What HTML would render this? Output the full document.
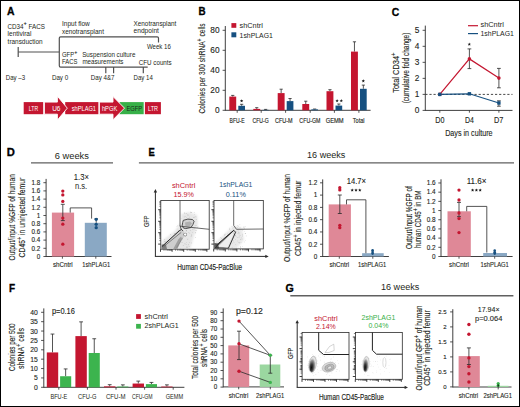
<!DOCTYPE html>
<html><head><meta charset="utf-8"><style>
html,body{margin:0;padding:0;background:#fff;}
body{width:520px;height:407px;overflow:hidden;}
svg{display:block;}
text{font-family:"Liberation Sans",sans-serif;}
</style></head><body>
<svg width="520" height="407" viewBox="0 0 520 407">
<rect x="0" y="0" width="520" height="407" fill="#fff"/>
<text x="7.00" y="14.60" font-size="10.4" fill="#000" stroke="#000" stroke-width="0.3" font-weight="bold" textLength="7.50" lengthAdjust="spacingAndGlyphs" >A</text>
<text x="7.40" y="29.00" font-size="6.5" fill="#231f20" textLength="37.50" lengthAdjust="spacingAndGlyphs" >CD34<tspan dy="-3.6" font-size="90%" font-weight="bold">+</tspan><tspan dy="3.6">​</tspan> FACS</text>
<text x="7.60" y="36.20" font-size="6.5" fill="#231f20" textLength="23.80" lengthAdjust="spacingAndGlyphs" >lentiviral</text>
<text x="7.60" y="43.65" font-size="6.5" fill="#231f20" textLength="35.00" lengthAdjust="spacingAndGlyphs" >transduction</text>
<line x1="18.20" y1="47.00" x2="18.20" y2="56.90" stroke="#505050" stroke-width="1.2" />
<line x1="18.20" y1="52.00" x2="59.30" y2="52.00" stroke="#505050" stroke-width="1.2" />
<path d="M147.7,67.1 H60.6 Q59.3,67.1 59.3,65.8 V38.1 Q59.3,36.8 60.6,36.8 H157.2 Q158.5,36.8 158.5,38.1 V42.5" fill="none" stroke="#505050" stroke-width="1.2" />
<line x1="105.80" y1="67.10" x2="105.80" y2="73.30" stroke="#505050" stroke-width="1.2" />
<line x1="113.60" y1="67.10" x2="113.60" y2="73.30" stroke="#505050" stroke-width="1.2" />
<line x1="143.30" y1="67.10" x2="143.30" y2="73.30" stroke="#505050" stroke-width="1.2" />
<text x="62.00" y="26.10" font-size="6.5" fill="#231f20" textLength="27.80" lengthAdjust="spacingAndGlyphs" >Input flow</text>
<text x="62.00" y="33.60" font-size="6.5" fill="#231f20" textLength="41.90" lengthAdjust="spacingAndGlyphs" >xenotransplant</text>
<text x="133.50" y="25.80" font-size="6.5" fill="#231f20" textLength="42.90" lengthAdjust="spacingAndGlyphs" >Xenotransplant</text>
<text x="133.60" y="33.30" font-size="6.5" fill="#231f20" textLength="25.30" lengthAdjust="spacingAndGlyphs" >endpoint</text>
<text x="146.90" y="49.40" font-size="6.5" fill="#231f20" textLength="23.90" lengthAdjust="spacingAndGlyphs" >Week 16</text>
<text x="62.00" y="56.70" font-size="6.5" fill="#231f20" textLength="15.30" lengthAdjust="spacingAndGlyphs" >GFP<tspan dy="-2.6" font-size="90%" font-weight="bold">+</tspan><tspan dy="2.6">​</tspan></text>
<text x="62.00" y="64.40" font-size="6.5" fill="#231f20" textLength="15.30" lengthAdjust="spacingAndGlyphs" >FACS</text>
<text x="82.20" y="56.70" font-size="6.5" fill="#231f20" textLength="53.20" lengthAdjust="spacingAndGlyphs" >Suspension culture</text>
<text x="82.40" y="64.40" font-size="6.5" fill="#231f20" textLength="41.10" lengthAdjust="spacingAndGlyphs" >measurements</text>
<text x="138.80" y="65.20" font-size="6.5" fill="#231f20" textLength="32.90" lengthAdjust="spacingAndGlyphs" >CFU counts</text>
<text x="5.80" y="80.30" font-size="6.5" fill="#231f20" textLength="19.30" lengthAdjust="spacingAndGlyphs" >Day –3</text>
<text x="51.90" y="80.30" font-size="6.5" fill="#231f20" textLength="16.30" lengthAdjust="spacingAndGlyphs" >Day 0</text>
<text x="90.70" y="80.30" font-size="6.5" fill="#231f20" textLength="23.90" lengthAdjust="spacingAndGlyphs" >Day 4&amp;7</text>
<text x="133.50" y="80.30" font-size="6.5" fill="#231f20" textLength="19.30" lengthAdjust="spacingAndGlyphs" >Day 14</text>
<rect x="23.70" y="102.10" width="19.50" height="12.10" fill="#c41630" />
<rect x="65.20" y="102.10" width="33.20" height="12.10" fill="#c41630" />
<path d="M44.4,102.1 H57.4 V96.2 L67.3,108.15 L57.4,120.1 V114.2 H44.4 Z" fill="#c41630" stroke="#fff" stroke-width="0.9" />
<rect x="119.50" y="102.10" width="24.20" height="12.10" fill="#37b048" />
<path d="M99.4,102.1 H113 V96.5 L124.5,108.15 L113,119.8 V114.2 H99.4 Z" fill="#c41630" stroke="#fff" stroke-width="0.9" />
<rect x="144.90" y="102.10" width="16.00" height="12.10" fill="#c41630" />
<text x="28.80" y="111.30" font-size="7.0" fill="#fff" textLength="9.30" lengthAdjust="spacingAndGlyphs" >LTR</text>
<text x="52.20" y="111.30" font-size="7.0" fill="#fff" textLength="8.30" lengthAdjust="spacingAndGlyphs" >U6</text>
<text x="71.70" y="111.30" font-size="7.0" fill="#fff" textLength="24.30" lengthAdjust="spacingAndGlyphs" >shPLAG1</text>
<text x="101.90" y="111.30" font-size="7.0" fill="#fff" textLength="15.40" lengthAdjust="spacingAndGlyphs" >hPGK</text>
<text x="126.40" y="111.30" font-size="7.0" fill="#1a2a1c" textLength="15.70" lengthAdjust="spacingAndGlyphs" >EGFP</text>
<text x="148.10" y="111.30" font-size="7.0" fill="#fff" textLength="10.00" lengthAdjust="spacingAndGlyphs" >LTR</text>
<text x="198.60" y="15.00" font-size="10.4" fill="#000" stroke="#000" stroke-width="0.3" font-weight="bold" textLength="7.10" lengthAdjust="spacingAndGlyphs" >B</text>
<line x1="225.30" y1="26.00" x2="225.30" y2="110.75" stroke="#2a2a2a" stroke-width="0.9" />
<line x1="222.60" y1="110.30" x2="225.30" y2="110.30" stroke="#2a2a2a" stroke-width="0.8" />
<text x="219.50" y="113.29" font-size="8.3" fill="#231f20" stroke="#231f20" stroke-width="0.12" text-anchor="end" >0</text>
<line x1="222.60" y1="90.30" x2="225.30" y2="90.30" stroke="#2a2a2a" stroke-width="0.8" />
<text x="219.50" y="93.29" font-size="8.3" fill="#231f20" stroke="#231f20" stroke-width="0.12" text-anchor="end" >20</text>
<line x1="222.60" y1="70.30" x2="225.30" y2="70.30" stroke="#2a2a2a" stroke-width="0.8" />
<text x="219.50" y="73.29" font-size="8.3" fill="#231f20" stroke="#231f20" stroke-width="0.12" text-anchor="end" >40</text>
<line x1="222.60" y1="50.30" x2="225.30" y2="50.30" stroke="#2a2a2a" stroke-width="0.8" />
<text x="219.50" y="53.29" font-size="8.3" fill="#231f20" stroke="#231f20" stroke-width="0.12" text-anchor="end" >60</text>
<line x1="222.60" y1="30.30" x2="225.30" y2="30.30" stroke="#2a2a2a" stroke-width="0.8" />
<text x="219.50" y="33.29" font-size="8.3" fill="#231f20" stroke="#231f20" stroke-width="0.12" text-anchor="end" >80</text>
<line x1="225.30" y1="110.30" x2="370.60" y2="110.30" stroke="#2a2a2a" stroke-width="0.9" />
<line x1="237.20" y1="110.30" x2="237.20" y2="112.80" stroke="#2a2a2a" stroke-width="0.8" />
<line x1="232.75" y1="95.40" x2="232.75" y2="96.60" stroke="#2a2a2a" stroke-width="0.8" />
<line x1="231.15" y1="95.40" x2="234.35" y2="95.40" stroke="#2a2a2a" stroke-width="0.8" />
<rect x="229.30" y="96.60" width="6.90" height="13.70" fill="#c41630" />
<line x1="241.65" y1="104.30" x2="241.65" y2="105.80" stroke="#2a2a2a" stroke-width="0.8" />
<line x1="240.05" y1="104.30" x2="243.25" y2="104.30" stroke="#2a2a2a" stroke-width="0.8" />
<rect x="238.30" y="105.80" width="6.70" height="4.50" fill="#165080" />
<text x="237.10" y="122.70" font-size="8.0" fill="#231f20" stroke="#231f20" stroke-width="0.16" text-anchor="middle" textLength="15.10" lengthAdjust="spacingAndGlyphs" >BFU-E</text>
<line x1="261.20" y1="110.30" x2="261.20" y2="112.80" stroke="#2a2a2a" stroke-width="0.8" />
<line x1="256.75" y1="107.70" x2="256.75" y2="108.90" stroke="#2a2a2a" stroke-width="0.8" />
<line x1="255.15" y1="107.70" x2="258.35" y2="107.70" stroke="#2a2a2a" stroke-width="0.8" />
<rect x="253.30" y="108.90" width="6.90" height="1.40" fill="#c41630" />
<line x1="265.65" y1="109.40" x2="265.65" y2="109.90" stroke="#2a2a2a" stroke-width="0.8" />
<line x1="264.05" y1="109.40" x2="267.25" y2="109.40" stroke="#2a2a2a" stroke-width="0.8" />
<rect x="262.30" y="109.90" width="6.70" height="0.40" fill="#165080" />
<text x="260.55" y="122.70" font-size="8.0" fill="#231f20" stroke="#231f20" stroke-width="0.16" text-anchor="middle" textLength="16.20" lengthAdjust="spacingAndGlyphs" >CFU-G</text>
<line x1="285.60" y1="110.30" x2="285.60" y2="112.80" stroke="#2a2a2a" stroke-width="0.8" />
<line x1="281.15" y1="89.20" x2="281.15" y2="93.10" stroke="#2a2a2a" stroke-width="0.8" />
<line x1="279.55" y1="89.20" x2="282.75" y2="89.20" stroke="#2a2a2a" stroke-width="0.8" />
<rect x="277.70" y="93.10" width="6.90" height="17.20" fill="#c41630" />
<line x1="290.05" y1="98.50" x2="290.05" y2="101.10" stroke="#2a2a2a" stroke-width="0.8" />
<line x1="288.45" y1="98.50" x2="291.65" y2="98.50" stroke="#2a2a2a" stroke-width="0.8" />
<rect x="286.70" y="101.10" width="6.70" height="9.20" fill="#165080" />
<text x="283.75" y="122.70" font-size="8.0" fill="#231f20" stroke="#231f20" stroke-width="0.16" text-anchor="middle" textLength="17.60" lengthAdjust="spacingAndGlyphs" >CFU-M</text>
<line x1="310.20" y1="110.30" x2="310.20" y2="112.80" stroke="#2a2a2a" stroke-width="0.8" />
<line x1="305.75" y1="101.20" x2="305.75" y2="104.00" stroke="#2a2a2a" stroke-width="0.8" />
<line x1="304.15" y1="101.20" x2="307.35" y2="101.20" stroke="#2a2a2a" stroke-width="0.8" />
<rect x="302.30" y="104.00" width="6.90" height="6.30" fill="#c41630" />
<line x1="314.65" y1="109.00" x2="314.65" y2="109.40" stroke="#2a2a2a" stroke-width="0.8" />
<line x1="313.05" y1="109.00" x2="316.25" y2="109.00" stroke="#2a2a2a" stroke-width="0.8" />
<rect x="311.30" y="109.40" width="6.70" height="0.90" fill="#165080" />
<text x="309.90" y="122.70" font-size="8.0" fill="#231f20" stroke="#231f20" stroke-width="0.16" text-anchor="middle" textLength="21.10" lengthAdjust="spacingAndGlyphs" >CFU-GM</text>
<line x1="334.40" y1="110.30" x2="334.40" y2="112.80" stroke="#2a2a2a" stroke-width="0.8" />
<line x1="329.95" y1="89.70" x2="329.95" y2="91.20" stroke="#2a2a2a" stroke-width="0.8" />
<line x1="328.35" y1="89.70" x2="331.55" y2="89.70" stroke="#2a2a2a" stroke-width="0.8" />
<rect x="326.50" y="91.20" width="6.90" height="19.10" fill="#c41630" />
<line x1="338.85" y1="104.00" x2="338.85" y2="105.60" stroke="#2a2a2a" stroke-width="0.8" />
<line x1="337.25" y1="104.00" x2="340.45" y2="104.00" stroke="#2a2a2a" stroke-width="0.8" />
<rect x="335.50" y="105.60" width="6.70" height="4.70" fill="#165080" />
<text x="334.70" y="122.70" font-size="8.0" fill="#231f20" stroke="#231f20" stroke-width="0.16" text-anchor="middle" textLength="17.90" lengthAdjust="spacingAndGlyphs" >GEMM</text>
<line x1="358.90" y1="110.30" x2="358.90" y2="112.80" stroke="#2a2a2a" stroke-width="0.8" />
<line x1="354.45" y1="41.80" x2="354.45" y2="51.60" stroke="#2a2a2a" stroke-width="0.8" />
<line x1="352.85" y1="41.80" x2="356.05" y2="41.80" stroke="#2a2a2a" stroke-width="0.8" />
<rect x="351.00" y="51.60" width="6.90" height="58.70" fill="#c41630" />
<line x1="363.35" y1="85.10" x2="363.35" y2="88.80" stroke="#2a2a2a" stroke-width="0.8" />
<line x1="361.75" y1="85.10" x2="364.95" y2="85.10" stroke="#2a2a2a" stroke-width="0.8" />
<rect x="360.00" y="88.80" width="6.70" height="21.50" fill="#165080" />
<text x="358.65" y="122.70" font-size="8.0" fill="#231f20" stroke="#231f20" stroke-width="0.16" text-anchor="middle" textLength="11.60" lengthAdjust="spacingAndGlyphs" >Total</text>
<polygon points="241.60,99.15 241.14,100.27 239.94,100.36 240.86,101.14 240.57,102.32 241.60,101.68 242.63,102.32 242.34,101.14 243.26,100.36 242.06,100.27" fill="#1a1a1a"/>
<polygon points="363.30,79.25 362.84,80.37 361.64,80.46 362.56,81.24 362.27,82.42 363.30,81.78 364.33,82.42 364.04,81.24 364.96,80.46 363.76,80.37" fill="#1a1a1a"/>
<polygon points="337.10,99.05 336.64,100.17 335.44,100.26 336.36,101.04 336.07,102.22 337.10,101.58 338.13,102.22 337.84,101.04 338.76,100.26 337.56,100.17" fill="#1a1a1a"/>
<polygon points="341.30,99.05 340.84,100.17 339.64,100.26 340.56,101.04 340.27,102.22 341.30,101.58 342.33,102.22 342.04,101.04 342.96,100.26 341.76,100.17" fill="#1a1a1a"/>
<rect x="231.40" y="23.10" width="4.90" height="4.70" fill="#c41630" />
<text x="239.60" y="28.40" font-size="6.6" fill="#231f20" textLength="23.20" lengthAdjust="spacingAndGlyphs" >shCntrl</text>
<rect x="231.40" y="32.30" width="4.90" height="5.00" fill="#165080" />
<text x="239.60" y="37.60" font-size="6.6" fill="#231f20" textLength="33.30" lengthAdjust="spacingAndGlyphs" >1shPLAG1</text>
<text x="204.60" y="113.60" font-size="8.6" fill="#231f20" stroke="#231f20" stroke-width="0.12" textLength="90.20" lengthAdjust="spacingAndGlyphs" transform="rotate(-90 204.60 113.60)" >Colonies per 300 shRNA<tspan dy="-2.7" font-size="80%" font-weight="normal">+</tspan><tspan dy="2.7">​</tspan> cells</text>
<text x="391.80" y="15.60" font-size="10.6" fill="#000" stroke="#000" stroke-width="0.3" font-weight="bold" textLength="7.50" lengthAdjust="spacingAndGlyphs" >C</text>
<line x1="425.30" y1="25.60" x2="425.30" y2="110.85" stroke="#2a2a2a" stroke-width="0.9" />
<line x1="422.60" y1="110.40" x2="425.30" y2="110.40" stroke="#2a2a2a" stroke-width="0.8" />
<text x="419.30" y="113.39" font-size="8.3" fill="#231f20" stroke="#231f20" stroke-width="0.12" text-anchor="end" >0</text>
<line x1="422.60" y1="94.38" x2="425.30" y2="94.38" stroke="#2a2a2a" stroke-width="0.8" />
<text x="419.30" y="97.37" font-size="8.3" fill="#231f20" stroke="#231f20" stroke-width="0.12" text-anchor="end" >1</text>
<line x1="422.60" y1="78.36" x2="425.30" y2="78.36" stroke="#2a2a2a" stroke-width="0.8" />
<text x="419.30" y="81.35" font-size="8.3" fill="#231f20" stroke="#231f20" stroke-width="0.12" text-anchor="end" >2</text>
<line x1="422.60" y1="62.34" x2="425.30" y2="62.34" stroke="#2a2a2a" stroke-width="0.8" />
<text x="419.30" y="65.33" font-size="8.3" fill="#231f20" stroke="#231f20" stroke-width="0.12" text-anchor="end" >3</text>
<line x1="422.60" y1="46.32" x2="425.30" y2="46.32" stroke="#2a2a2a" stroke-width="0.8" />
<text x="419.30" y="49.31" font-size="8.3" fill="#231f20" stroke="#231f20" stroke-width="0.12" text-anchor="end" >4</text>
<line x1="422.60" y1="30.30" x2="425.30" y2="30.30" stroke="#2a2a2a" stroke-width="0.8" />
<text x="419.30" y="33.29" font-size="8.3" fill="#231f20" stroke="#231f20" stroke-width="0.12" text-anchor="end" >5</text>
<line x1="425.30" y1="110.40" x2="512.50" y2="110.40" stroke="#2a2a2a" stroke-width="0.9" />
<line x1="439.80" y1="110.40" x2="439.80" y2="112.70" stroke="#2a2a2a" stroke-width="0.8" />
<text x="435.20" y="123.00" font-size="8.8" fill="#231f20" stroke="#231f20" stroke-width="0.12" textLength="9.20" lengthAdjust="spacingAndGlyphs" >D0</text>
<line x1="469.40" y1="110.40" x2="469.40" y2="112.70" stroke="#2a2a2a" stroke-width="0.8" />
<text x="465.00" y="123.00" font-size="8.8" fill="#231f20" stroke="#231f20" stroke-width="0.12" textLength="8.90" lengthAdjust="spacingAndGlyphs" >D4</text>
<line x1="498.90" y1="110.40" x2="498.90" y2="112.70" stroke="#2a2a2a" stroke-width="0.8" />
<text x="494.00" y="123.00" font-size="8.8" fill="#231f20" stroke="#231f20" stroke-width="0.12" textLength="9.30" lengthAdjust="spacingAndGlyphs" >D7</text>
<line x1="425.30" y1="94.40" x2="512.50" y2="94.40" stroke="#333" stroke-width="0.9" stroke-dasharray="2.2,1.9"/>
<line x1="469.40" y1="48.90" x2="469.40" y2="68.60" stroke="#2a2a2a" stroke-width="0.8" />
<line x1="467.50" y1="48.90" x2="471.30" y2="48.90" stroke="#2a2a2a" stroke-width="0.8" />
<line x1="467.50" y1="68.60" x2="471.30" y2="68.60" stroke="#2a2a2a" stroke-width="0.8" />
<line x1="498.90" y1="68.40" x2="498.90" y2="87.80" stroke="#2a2a2a" stroke-width="0.8" />
<line x1="497.00" y1="68.40" x2="500.80" y2="68.40" stroke="#2a2a2a" stroke-width="0.8" />
<line x1="497.00" y1="87.80" x2="500.80" y2="87.80" stroke="#2a2a2a" stroke-width="0.8" />
<line x1="498.90" y1="100.80" x2="498.90" y2="106.20" stroke="#2a2a2a" stroke-width="0.8" />
<line x1="497.00" y1="100.80" x2="500.80" y2="100.80" stroke="#2a2a2a" stroke-width="0.8" />
<line x1="497.00" y1="106.20" x2="500.80" y2="106.20" stroke="#2a2a2a" stroke-width="0.8" />
<path d="M439.8,94.4 L469.4,58.9 L498.9,78.1" fill="none" stroke="#c41630" stroke-width="1.2" />
<path d="M439.8,94.4 L469.4,93.8 L498.9,103.0" fill="none" stroke="#165080" stroke-width="1.2" />
<circle cx="439.80" cy="94.40" r="1.8" fill="#c41630"/>
<circle cx="469.40" cy="58.90" r="1.8" fill="#c41630"/>
<circle cx="498.90" cy="78.10" r="1.8" fill="#c41630"/>
<rect x="438.10" y="92.70" width="3.40" height="3.40" fill="#165080" />
<rect x="467.70" y="92.10" width="3.40" height="3.40" fill="#165080" />
<rect x="497.20" y="101.30" width="3.40" height="3.40" fill="#165080" />
<polygon points="469.30,42.55 468.84,43.67 467.64,43.76 468.56,44.54 468.27,45.72 469.30,45.08 470.33,45.72 470.04,44.54 470.96,43.76 469.76,43.67" fill="#1a1a1a"/>
<line x1="468.00" y1="25.70" x2="478.00" y2="25.70" stroke="#c41630" stroke-width="1.2" />
<text x="480.50" y="26.60" font-size="6.6" fill="#231f20" textLength="23.30" lengthAdjust="spacingAndGlyphs" >shCntrl</text>
<line x1="468.00" y1="33.60" x2="478.00" y2="33.60" stroke="#165080" stroke-width="1.2" />
<text x="480.50" y="35.60" font-size="6.6" fill="#231f20" textLength="33.40" lengthAdjust="spacingAndGlyphs" >1shPLAG1</text>
<text x="399.20" y="92.80" font-size="8.5" fill="#231f20" stroke="#231f20" stroke-width="0.12" textLength="40.40" lengthAdjust="spacingAndGlyphs" transform="rotate(-90 399.20 92.80)" >Total CD34<tspan dy="-2.7" font-size="80%" font-weight="normal">+</tspan><tspan dy="2.7">​</tspan></text>
<text x="408.60" y="103.30" font-size="8.5" fill="#231f20" stroke="#231f20" stroke-width="0.12" textLength="70.70" lengthAdjust="spacingAndGlyphs" transform="rotate(-90 408.60 103.30)" >(cumulative fold change)</text>
<text x="445.20" y="136.20" font-size="9.0" fill="#231f20" stroke="#231f20" stroke-width="0.12" textLength="47.40" lengthAdjust="spacingAndGlyphs" >Days in culture</text>
<text x="6.80" y="156.00" font-size="10.4" fill="#000" stroke="#000" stroke-width="0.3" font-weight="bold" textLength="8.10" lengthAdjust="spacingAndGlyphs" >D</text>
<text x="54.80" y="158.60" font-size="8.3" fill="#231f20" textLength="34.10" lengthAdjust="spacingAndGlyphs" >6 weeks</text>
<line x1="31.00" y1="162.90" x2="113.00" y2="162.90" stroke="#606060" stroke-width="1.4" />
<line x1="46.10" y1="178.90" x2="46.10" y2="256.95" stroke="#2a2a2a" stroke-width="0.9" />
<line x1="43.40" y1="256.50" x2="46.10" y2="256.50" stroke="#2a2a2a" stroke-width="0.8" />
<text x="40.30" y="258.77" font-size="6.3" fill="#231f20" stroke="#231f20" stroke-width="0.12" text-anchor="end" >0</text>
<line x1="43.40" y1="248.30" x2="46.10" y2="248.30" stroke="#2a2a2a" stroke-width="0.8" />
<text x="40.30" y="250.57" font-size="6.3" fill="#231f20" stroke="#231f20" stroke-width="0.12" text-anchor="end" >0.2</text>
<line x1="43.40" y1="240.10" x2="46.10" y2="240.10" stroke="#2a2a2a" stroke-width="0.8" />
<text x="40.30" y="242.37" font-size="6.3" fill="#231f20" stroke="#231f20" stroke-width="0.12" text-anchor="end" >0.4</text>
<line x1="43.40" y1="231.90" x2="46.10" y2="231.90" stroke="#2a2a2a" stroke-width="0.8" />
<text x="40.30" y="234.17" font-size="6.3" fill="#231f20" stroke="#231f20" stroke-width="0.12" text-anchor="end" >0.6</text>
<line x1="43.40" y1="223.70" x2="46.10" y2="223.70" stroke="#2a2a2a" stroke-width="0.8" />
<text x="40.30" y="225.97" font-size="6.3" fill="#231f20" stroke="#231f20" stroke-width="0.12" text-anchor="end" >0.8</text>
<line x1="43.40" y1="215.50" x2="46.10" y2="215.50" stroke="#2a2a2a" stroke-width="0.8" />
<text x="40.30" y="217.77" font-size="6.3" fill="#231f20" stroke="#231f20" stroke-width="0.12" text-anchor="end" >1</text>
<line x1="43.40" y1="207.30" x2="46.10" y2="207.30" stroke="#2a2a2a" stroke-width="0.8" />
<text x="40.30" y="209.57" font-size="6.3" fill="#231f20" stroke="#231f20" stroke-width="0.12" text-anchor="end" >1.2</text>
<line x1="43.40" y1="199.10" x2="46.10" y2="199.10" stroke="#2a2a2a" stroke-width="0.8" />
<text x="40.30" y="201.37" font-size="6.3" fill="#231f20" stroke="#231f20" stroke-width="0.12" text-anchor="end" >1.4</text>
<line x1="43.40" y1="190.90" x2="46.10" y2="190.90" stroke="#2a2a2a" stroke-width="0.8" />
<text x="40.30" y="193.17" font-size="6.3" fill="#231f20" stroke="#231f20" stroke-width="0.12" text-anchor="end" >1.6</text>
<line x1="43.40" y1="182.70" x2="46.10" y2="182.70" stroke="#2a2a2a" stroke-width="0.8" />
<text x="40.30" y="184.97" font-size="6.3" fill="#231f20" stroke="#231f20" stroke-width="0.12" text-anchor="end" >1.8</text>
<line x1="46.10" y1="256.50" x2="111.50" y2="256.50" stroke="#2a2a2a" stroke-width="0.9" />
<rect x="51.90" y="212.60" width="22.20" height="43.90" fill="#df8897" />
<rect x="84.80" y="222.80" width="22.00" height="33.70" fill="#8aa8c4" />
<line x1="62.80" y1="204.30" x2="62.80" y2="220.60" stroke="#2a2a2a" stroke-width="0.8" />
<line x1="60.80" y1="204.30" x2="64.80" y2="204.30" stroke="#2a2a2a" stroke-width="0.8" />
<line x1="60.80" y1="220.60" x2="64.80" y2="220.60" stroke="#2a2a2a" stroke-width="0.8" />
<line x1="96.20" y1="218.60" x2="96.20" y2="222.80" stroke="#2a2a2a" stroke-width="0.8" />
<line x1="94.60" y1="218.60" x2="97.80" y2="218.60" stroke="#2a2a2a" stroke-width="0.8" />
<path d="M70.2,212.6 V207.9 H91.6 V218.6" fill="none" stroke="#2a2a2a" stroke-width="0.8" />
<circle cx="62.80" cy="191.10" r="1.65" fill="#c41630"/>
<circle cx="62.80" cy="194.90" r="1.65" fill="#c41630"/>
<circle cx="62.80" cy="201.40" r="1.65" fill="#c41630"/>
<circle cx="62.80" cy="218.10" r="1.65" fill="#c41630"/>
<circle cx="62.80" cy="224.20" r="1.65" fill="#c41630"/>
<circle cx="62.80" cy="244.20" r="1.65" fill="#c41630"/>
<circle cx="96.20" cy="219.30" r="1.65" fill="#165080"/>
<circle cx="96.20" cy="224.30" r="1.65" fill="#165080"/>
<circle cx="96.20" cy="227.70" r="1.65" fill="#165080"/>
<text x="73.80" y="179.60" font-size="8.9" fill="#231f20" stroke="#231f20" stroke-width="0.08" textLength="15.10" lengthAdjust="spacingAndGlyphs" >1.3×</text>
<text x="74.90" y="189.30" font-size="8.6" fill="#231f20" textLength="12.30" lengthAdjust="spacingAndGlyphs" >n.s.</text>
<line x1="62.40" y1="256.50" x2="62.40" y2="258.70" stroke="#2a2a2a" stroke-width="0.8" />
<text x="52.90" y="267.20" font-size="6.4" fill="#231f20" stroke="#231f20" stroke-width="0.1" textLength="19.70" lengthAdjust="spacingAndGlyphs" >shCntrl</text>
<line x1="95.80" y1="256.50" x2="95.80" y2="258.70" stroke="#2a2a2a" stroke-width="0.8" />
<text x="82.30" y="267.20" font-size="6.4" fill="#231f20" stroke="#231f20" stroke-width="0.1" textLength="27.80" lengthAdjust="spacingAndGlyphs" >1shPLAG1</text>
<text x="14.80" y="260.40" font-size="8.5" fill="#231f20" stroke="#231f20" stroke-width="0.12" textLength="86.20" lengthAdjust="spacingAndGlyphs" transform="rotate(-90 14.80 260.40)" >Output/input %GFP of human</text>
<text x="25.20" y="257.40" font-size="8.5" fill="#231f20" stroke="#231f20" stroke-width="0.12" textLength="79.70" lengthAdjust="spacingAndGlyphs" transform="rotate(-90 25.20 257.40)" >CD45<tspan dy="-2.7" font-size="80%" font-weight="normal">+</tspan><tspan dy="2.7">​</tspan> in uninjected femur</text>
<text x="148.50" y="156.20" font-size="10.4" fill="#000" stroke="#000" stroke-width="0.3" font-weight="bold" textLength="6.30" lengthAdjust="spacingAndGlyphs" >E</text>
<line x1="138.90" y1="162.90" x2="514.00" y2="162.90" stroke="#606060" stroke-width="1.4" />
<text x="307.00" y="158.40" font-size="8.3" fill="#231f20" textLength="38.40" lengthAdjust="spacingAndGlyphs" >16 weeks</text>
<defs><filter id="bl" x="-50%" y="-50%" width="200%" height="200%"><feGaussianBlur stdDeviation="1.2"/></filter><filter id="bl2" x="-50%" y="-50%" width="200%" height="200%"><feGaussianBlur stdDeviation="0.6"/></filter></defs>
<line x1="155.40" y1="256.40" x2="155.40" y2="191.00" stroke="#2a2a2a" stroke-width="1.0" />
<line x1="154.90" y1="256.40" x2="266.70" y2="256.40" stroke="#2a2a2a" stroke-width="1.0" />
<path d="M153.70000000000002,192.4 L155.4,189.0 L157.1,192.4 Z" fill="#2a2a2a" stroke="none" stroke-width="0.8" />
<path d="M265.3,254.7 L268.7,256.4 L265.3,258.09999999999997 Z" fill="#2a2a2a" stroke="none" stroke-width="0.8" />
<line x1="158.20" y1="209.70" x2="160.80" y2="209.70" stroke="#2a2a2a" stroke-width="0.9" />
<line x1="159.30" y1="206.24" x2="160.80" y2="206.24" stroke="#2a2a2a" stroke-width="0.6" />
<line x1="159.30" y1="204.21" x2="160.80" y2="204.21" stroke="#2a2a2a" stroke-width="0.6" />
<line x1="159.30" y1="202.78" x2="160.80" y2="202.78" stroke="#2a2a2a" stroke-width="0.6" />
<line x1="159.30" y1="201.66" x2="160.80" y2="201.66" stroke="#2a2a2a" stroke-width="0.6" />
<line x1="158.20" y1="221.30" x2="160.80" y2="221.30" stroke="#2a2a2a" stroke-width="0.9" />
<line x1="159.30" y1="217.84" x2="160.80" y2="217.84" stroke="#2a2a2a" stroke-width="0.6" />
<line x1="159.30" y1="215.81" x2="160.80" y2="215.81" stroke="#2a2a2a" stroke-width="0.6" />
<line x1="159.30" y1="214.38" x2="160.80" y2="214.38" stroke="#2a2a2a" stroke-width="0.6" />
<line x1="159.30" y1="213.26" x2="160.80" y2="213.26" stroke="#2a2a2a" stroke-width="0.6" />
<line x1="159.30" y1="212.35" x2="160.80" y2="212.35" stroke="#2a2a2a" stroke-width="0.6" />
<line x1="159.30" y1="211.58" x2="160.80" y2="211.58" stroke="#2a2a2a" stroke-width="0.6" />
<line x1="159.30" y1="210.91" x2="160.80" y2="210.91" stroke="#2a2a2a" stroke-width="0.6" />
<line x1="159.30" y1="210.33" x2="160.80" y2="210.33" stroke="#2a2a2a" stroke-width="0.6" />
<line x1="158.20" y1="232.70" x2="160.80" y2="232.70" stroke="#2a2a2a" stroke-width="0.9" />
<line x1="159.30" y1="229.24" x2="160.80" y2="229.24" stroke="#2a2a2a" stroke-width="0.6" />
<line x1="159.30" y1="227.21" x2="160.80" y2="227.21" stroke="#2a2a2a" stroke-width="0.6" />
<line x1="159.30" y1="225.78" x2="160.80" y2="225.78" stroke="#2a2a2a" stroke-width="0.6" />
<line x1="159.30" y1="224.66" x2="160.80" y2="224.66" stroke="#2a2a2a" stroke-width="0.6" />
<line x1="159.30" y1="223.75" x2="160.80" y2="223.75" stroke="#2a2a2a" stroke-width="0.6" />
<line x1="159.30" y1="222.98" x2="160.80" y2="222.98" stroke="#2a2a2a" stroke-width="0.6" />
<line x1="159.30" y1="222.31" x2="160.80" y2="222.31" stroke="#2a2a2a" stroke-width="0.6" />
<line x1="159.30" y1="221.73" x2="160.80" y2="221.73" stroke="#2a2a2a" stroke-width="0.6" />
<line x1="158.20" y1="244.10" x2="160.80" y2="244.10" stroke="#2a2a2a" stroke-width="0.9" />
<line x1="159.30" y1="240.64" x2="160.80" y2="240.64" stroke="#2a2a2a" stroke-width="0.6" />
<line x1="159.30" y1="238.61" x2="160.80" y2="238.61" stroke="#2a2a2a" stroke-width="0.6" />
<line x1="159.30" y1="237.18" x2="160.80" y2="237.18" stroke="#2a2a2a" stroke-width="0.6" />
<line x1="159.30" y1="236.06" x2="160.80" y2="236.06" stroke="#2a2a2a" stroke-width="0.6" />
<line x1="159.30" y1="235.15" x2="160.80" y2="235.15" stroke="#2a2a2a" stroke-width="0.6" />
<line x1="159.30" y1="234.38" x2="160.80" y2="234.38" stroke="#2a2a2a" stroke-width="0.6" />
<line x1="159.30" y1="233.71" x2="160.80" y2="233.71" stroke="#2a2a2a" stroke-width="0.6" />
<line x1="159.30" y1="233.13" x2="160.80" y2="233.13" stroke="#2a2a2a" stroke-width="0.6" />
<line x1="160.50" y1="249.20" x2="160.50" y2="251.80" stroke="#2a2a2a" stroke-width="0.9" />
<line x1="163.99" y1="249.20" x2="163.99" y2="250.70" stroke="#2a2a2a" stroke-width="0.6" />
<line x1="166.03" y1="249.20" x2="166.03" y2="250.70" stroke="#2a2a2a" stroke-width="0.6" />
<line x1="167.48" y1="249.20" x2="167.48" y2="250.70" stroke="#2a2a2a" stroke-width="0.6" />
<line x1="168.61" y1="249.20" x2="168.61" y2="250.70" stroke="#2a2a2a" stroke-width="0.6" />
<line x1="169.53" y1="249.20" x2="169.53" y2="250.70" stroke="#2a2a2a" stroke-width="0.6" />
<line x1="170.30" y1="249.20" x2="170.30" y2="250.70" stroke="#2a2a2a" stroke-width="0.6" />
<line x1="170.98" y1="249.20" x2="170.98" y2="250.70" stroke="#2a2a2a" stroke-width="0.6" />
<line x1="171.57" y1="249.20" x2="171.57" y2="250.70" stroke="#2a2a2a" stroke-width="0.6" />
<line x1="172.10" y1="249.20" x2="172.10" y2="251.80" stroke="#2a2a2a" stroke-width="0.9" />
<line x1="175.59" y1="249.20" x2="175.59" y2="250.70" stroke="#2a2a2a" stroke-width="0.6" />
<line x1="177.63" y1="249.20" x2="177.63" y2="250.70" stroke="#2a2a2a" stroke-width="0.6" />
<line x1="179.08" y1="249.20" x2="179.08" y2="250.70" stroke="#2a2a2a" stroke-width="0.6" />
<line x1="180.21" y1="249.20" x2="180.21" y2="250.70" stroke="#2a2a2a" stroke-width="0.6" />
<line x1="181.13" y1="249.20" x2="181.13" y2="250.70" stroke="#2a2a2a" stroke-width="0.6" />
<line x1="181.90" y1="249.20" x2="181.90" y2="250.70" stroke="#2a2a2a" stroke-width="0.6" />
<line x1="182.58" y1="249.20" x2="182.58" y2="250.70" stroke="#2a2a2a" stroke-width="0.6" />
<line x1="183.17" y1="249.20" x2="183.17" y2="250.70" stroke="#2a2a2a" stroke-width="0.6" />
<line x1="183.70" y1="249.20" x2="183.70" y2="251.80" stroke="#2a2a2a" stroke-width="0.9" />
<line x1="187.19" y1="249.20" x2="187.19" y2="250.70" stroke="#2a2a2a" stroke-width="0.6" />
<line x1="189.23" y1="249.20" x2="189.23" y2="250.70" stroke="#2a2a2a" stroke-width="0.6" />
<line x1="190.68" y1="249.20" x2="190.68" y2="250.70" stroke="#2a2a2a" stroke-width="0.6" />
<line x1="191.81" y1="249.20" x2="191.81" y2="250.70" stroke="#2a2a2a" stroke-width="0.6" />
<line x1="192.73" y1="249.20" x2="192.73" y2="250.70" stroke="#2a2a2a" stroke-width="0.6" />
<line x1="193.50" y1="249.20" x2="193.50" y2="250.70" stroke="#2a2a2a" stroke-width="0.6" />
<line x1="194.18" y1="249.20" x2="194.18" y2="250.70" stroke="#2a2a2a" stroke-width="0.6" />
<line x1="194.77" y1="249.20" x2="194.77" y2="250.70" stroke="#2a2a2a" stroke-width="0.6" />
<line x1="195.30" y1="249.20" x2="195.30" y2="251.80" stroke="#2a2a2a" stroke-width="0.9" />
<line x1="198.79" y1="249.20" x2="198.79" y2="250.70" stroke="#2a2a2a" stroke-width="0.6" />
<line x1="200.83" y1="249.20" x2="200.83" y2="250.70" stroke="#2a2a2a" stroke-width="0.6" />
<line x1="202.28" y1="249.20" x2="202.28" y2="250.70" stroke="#2a2a2a" stroke-width="0.6" />
<line x1="203.41" y1="249.20" x2="203.41" y2="250.70" stroke="#2a2a2a" stroke-width="0.6" />
<line x1="204.33" y1="249.20" x2="204.33" y2="250.70" stroke="#2a2a2a" stroke-width="0.6" />
<line x1="205.10" y1="249.20" x2="205.10" y2="250.70" stroke="#2a2a2a" stroke-width="0.6" />
<line x1="205.78" y1="249.20" x2="205.78" y2="250.70" stroke="#2a2a2a" stroke-width="0.6" />
<line x1="206.37" y1="249.20" x2="206.37" y2="250.70" stroke="#2a2a2a" stroke-width="0.6" />
<line x1="206.90" y1="249.20" x2="206.90" y2="251.80" stroke="#2a2a2a" stroke-width="0.9" />
<rect x="160.8" y="200.5" width="48.40" height="48.70" fill="none" stroke="#2a2a2a" stroke-width="0.8"/>
<line x1="211.40" y1="209.70" x2="214.00" y2="209.70" stroke="#2a2a2a" stroke-width="0.9" />
<line x1="212.50" y1="206.24" x2="214.00" y2="206.24" stroke="#2a2a2a" stroke-width="0.6" />
<line x1="212.50" y1="204.21" x2="214.00" y2="204.21" stroke="#2a2a2a" stroke-width="0.6" />
<line x1="212.50" y1="202.78" x2="214.00" y2="202.78" stroke="#2a2a2a" stroke-width="0.6" />
<line x1="212.50" y1="201.66" x2="214.00" y2="201.66" stroke="#2a2a2a" stroke-width="0.6" />
<line x1="211.40" y1="221.30" x2="214.00" y2="221.30" stroke="#2a2a2a" stroke-width="0.9" />
<line x1="212.50" y1="217.84" x2="214.00" y2="217.84" stroke="#2a2a2a" stroke-width="0.6" />
<line x1="212.50" y1="215.81" x2="214.00" y2="215.81" stroke="#2a2a2a" stroke-width="0.6" />
<line x1="212.50" y1="214.38" x2="214.00" y2="214.38" stroke="#2a2a2a" stroke-width="0.6" />
<line x1="212.50" y1="213.26" x2="214.00" y2="213.26" stroke="#2a2a2a" stroke-width="0.6" />
<line x1="212.50" y1="212.35" x2="214.00" y2="212.35" stroke="#2a2a2a" stroke-width="0.6" />
<line x1="212.50" y1="211.58" x2="214.00" y2="211.58" stroke="#2a2a2a" stroke-width="0.6" />
<line x1="212.50" y1="210.91" x2="214.00" y2="210.91" stroke="#2a2a2a" stroke-width="0.6" />
<line x1="212.50" y1="210.33" x2="214.00" y2="210.33" stroke="#2a2a2a" stroke-width="0.6" />
<line x1="211.40" y1="232.70" x2="214.00" y2="232.70" stroke="#2a2a2a" stroke-width="0.9" />
<line x1="212.50" y1="229.24" x2="214.00" y2="229.24" stroke="#2a2a2a" stroke-width="0.6" />
<line x1="212.50" y1="227.21" x2="214.00" y2="227.21" stroke="#2a2a2a" stroke-width="0.6" />
<line x1="212.50" y1="225.78" x2="214.00" y2="225.78" stroke="#2a2a2a" stroke-width="0.6" />
<line x1="212.50" y1="224.66" x2="214.00" y2="224.66" stroke="#2a2a2a" stroke-width="0.6" />
<line x1="212.50" y1="223.75" x2="214.00" y2="223.75" stroke="#2a2a2a" stroke-width="0.6" />
<line x1="212.50" y1="222.98" x2="214.00" y2="222.98" stroke="#2a2a2a" stroke-width="0.6" />
<line x1="212.50" y1="222.31" x2="214.00" y2="222.31" stroke="#2a2a2a" stroke-width="0.6" />
<line x1="212.50" y1="221.73" x2="214.00" y2="221.73" stroke="#2a2a2a" stroke-width="0.6" />
<line x1="211.40" y1="244.10" x2="214.00" y2="244.10" stroke="#2a2a2a" stroke-width="0.9" />
<line x1="212.50" y1="240.64" x2="214.00" y2="240.64" stroke="#2a2a2a" stroke-width="0.6" />
<line x1="212.50" y1="238.61" x2="214.00" y2="238.61" stroke="#2a2a2a" stroke-width="0.6" />
<line x1="212.50" y1="237.18" x2="214.00" y2="237.18" stroke="#2a2a2a" stroke-width="0.6" />
<line x1="212.50" y1="236.06" x2="214.00" y2="236.06" stroke="#2a2a2a" stroke-width="0.6" />
<line x1="212.50" y1="235.15" x2="214.00" y2="235.15" stroke="#2a2a2a" stroke-width="0.6" />
<line x1="212.50" y1="234.38" x2="214.00" y2="234.38" stroke="#2a2a2a" stroke-width="0.6" />
<line x1="212.50" y1="233.71" x2="214.00" y2="233.71" stroke="#2a2a2a" stroke-width="0.6" />
<line x1="212.50" y1="233.13" x2="214.00" y2="233.13" stroke="#2a2a2a" stroke-width="0.6" />
<line x1="213.70" y1="248.90" x2="213.70" y2="251.50" stroke="#2a2a2a" stroke-width="0.9" />
<line x1="217.19" y1="248.90" x2="217.19" y2="250.40" stroke="#2a2a2a" stroke-width="0.6" />
<line x1="219.23" y1="248.90" x2="219.23" y2="250.40" stroke="#2a2a2a" stroke-width="0.6" />
<line x1="220.68" y1="248.90" x2="220.68" y2="250.40" stroke="#2a2a2a" stroke-width="0.6" />
<line x1="221.81" y1="248.90" x2="221.81" y2="250.40" stroke="#2a2a2a" stroke-width="0.6" />
<line x1="222.73" y1="248.90" x2="222.73" y2="250.40" stroke="#2a2a2a" stroke-width="0.6" />
<line x1="223.50" y1="248.90" x2="223.50" y2="250.40" stroke="#2a2a2a" stroke-width="0.6" />
<line x1="224.18" y1="248.90" x2="224.18" y2="250.40" stroke="#2a2a2a" stroke-width="0.6" />
<line x1="224.77" y1="248.90" x2="224.77" y2="250.40" stroke="#2a2a2a" stroke-width="0.6" />
<line x1="225.30" y1="248.90" x2="225.30" y2="251.50" stroke="#2a2a2a" stroke-width="0.9" />
<line x1="228.79" y1="248.90" x2="228.79" y2="250.40" stroke="#2a2a2a" stroke-width="0.6" />
<line x1="230.83" y1="248.90" x2="230.83" y2="250.40" stroke="#2a2a2a" stroke-width="0.6" />
<line x1="232.28" y1="248.90" x2="232.28" y2="250.40" stroke="#2a2a2a" stroke-width="0.6" />
<line x1="233.41" y1="248.90" x2="233.41" y2="250.40" stroke="#2a2a2a" stroke-width="0.6" />
<line x1="234.33" y1="248.90" x2="234.33" y2="250.40" stroke="#2a2a2a" stroke-width="0.6" />
<line x1="235.10" y1="248.90" x2="235.10" y2="250.40" stroke="#2a2a2a" stroke-width="0.6" />
<line x1="235.78" y1="248.90" x2="235.78" y2="250.40" stroke="#2a2a2a" stroke-width="0.6" />
<line x1="236.37" y1="248.90" x2="236.37" y2="250.40" stroke="#2a2a2a" stroke-width="0.6" />
<line x1="236.90" y1="248.90" x2="236.90" y2="251.50" stroke="#2a2a2a" stroke-width="0.9" />
<line x1="240.39" y1="248.90" x2="240.39" y2="250.40" stroke="#2a2a2a" stroke-width="0.6" />
<line x1="242.43" y1="248.90" x2="242.43" y2="250.40" stroke="#2a2a2a" stroke-width="0.6" />
<line x1="243.88" y1="248.90" x2="243.88" y2="250.40" stroke="#2a2a2a" stroke-width="0.6" />
<line x1="245.01" y1="248.90" x2="245.01" y2="250.40" stroke="#2a2a2a" stroke-width="0.6" />
<line x1="245.93" y1="248.90" x2="245.93" y2="250.40" stroke="#2a2a2a" stroke-width="0.6" />
<line x1="246.70" y1="248.90" x2="246.70" y2="250.40" stroke="#2a2a2a" stroke-width="0.6" />
<line x1="247.38" y1="248.90" x2="247.38" y2="250.40" stroke="#2a2a2a" stroke-width="0.6" />
<line x1="247.97" y1="248.90" x2="247.97" y2="250.40" stroke="#2a2a2a" stroke-width="0.6" />
<line x1="248.50" y1="248.90" x2="248.50" y2="251.50" stroke="#2a2a2a" stroke-width="0.9" />
<line x1="251.99" y1="248.90" x2="251.99" y2="250.40" stroke="#2a2a2a" stroke-width="0.6" />
<line x1="254.03" y1="248.90" x2="254.03" y2="250.40" stroke="#2a2a2a" stroke-width="0.6" />
<line x1="255.48" y1="248.90" x2="255.48" y2="250.40" stroke="#2a2a2a" stroke-width="0.6" />
<line x1="256.61" y1="248.90" x2="256.61" y2="250.40" stroke="#2a2a2a" stroke-width="0.6" />
<line x1="257.53" y1="248.90" x2="257.53" y2="250.40" stroke="#2a2a2a" stroke-width="0.6" />
<line x1="258.30" y1="248.90" x2="258.30" y2="250.40" stroke="#2a2a2a" stroke-width="0.6" />
<line x1="258.98" y1="248.90" x2="258.98" y2="250.40" stroke="#2a2a2a" stroke-width="0.6" />
<line x1="259.57" y1="248.90" x2="259.57" y2="250.40" stroke="#2a2a2a" stroke-width="0.6" />
<line x1="260.10" y1="248.90" x2="260.10" y2="251.50" stroke="#2a2a2a" stroke-width="0.9" />
<rect x="214.0" y="200.5" width="49.30" height="48.40" fill="none" stroke="#2a2a2a" stroke-width="0.8"/>
<path d="M161.5,249 L162,241 L175,231 L181,222 L181,214 L189,212 L197,215 L198,224 L194,236 L190,249 Z" fill="#b0b0b0" fill-opacity="0.3" filter="url(#bl)"/>
<g fill="#666" fill-opacity="0.55"><circle cx="175.1" cy="233.9" r="0.3"/><circle cx="184.8" cy="213.5" r="0.3"/><circle cx="192.8" cy="229.1" r="0.3"/><circle cx="185.3" cy="216.7" r="0.3"/><circle cx="185.1" cy="244.0" r="0.3"/><circle cx="180.9" cy="239.2" r="0.3"/><circle cx="186.5" cy="213.4" r="0.3"/><circle cx="189.8" cy="233.5" r="0.3"/><circle cx="193.9" cy="229.0" r="0.3"/><circle cx="188.3" cy="244.4" r="0.3"/><circle cx="188.1" cy="246.0" r="0.3"/><circle cx="176.0" cy="241.4" r="0.3"/><circle cx="177.9" cy="246.6" r="0.3"/><circle cx="194.4" cy="214.7" r="0.3"/><circle cx="197.7" cy="227.6" r="0.3"/><circle cx="184.8" cy="222.4" r="0.3"/><circle cx="180.3" cy="225.7" r="0.3"/><circle cx="174.3" cy="233.2" r="0.3"/><circle cx="183.2" cy="245.4" r="0.3"/><circle cx="186.9" cy="246.3" r="0.3"/><circle cx="186.5" cy="217.2" r="0.3"/><circle cx="195.4" cy="232.6" r="0.3"/><circle cx="188.1" cy="219.0" r="0.3"/><circle cx="192.6" cy="232.8" r="0.3"/><circle cx="164.4" cy="241.4" r="0.3"/><circle cx="172.2" cy="240.2" r="0.3"/><circle cx="194.2" cy="212.7" r="0.3"/><circle cx="184.4" cy="212.7" r="0.3"/><circle cx="188.3" cy="223.6" r="0.3"/><circle cx="180.2" cy="248.9" r="0.3"/><circle cx="184.2" cy="216.9" r="0.3"/><circle cx="162.6" cy="244.0" r="0.3"/><circle cx="172.9" cy="247.4" r="0.3"/><circle cx="195.1" cy="225.4" r="0.3"/><circle cx="178.5" cy="230.8" r="0.3"/><circle cx="185.5" cy="233.6" r="0.3"/><circle cx="182.3" cy="234.6" r="0.3"/><circle cx="196.7" cy="230.3" r="0.3"/><circle cx="177.4" cy="238.4" r="0.3"/><circle cx="176.8" cy="233.0" r="0.3"/><circle cx="185.0" cy="213.3" r="0.3"/><circle cx="184.8" cy="228.7" r="0.3"/><circle cx="186.8" cy="224.4" r="0.3"/><circle cx="187.9" cy="239.0" r="0.3"/><circle cx="186.7" cy="247.6" r="0.3"/><circle cx="183.5" cy="223.2" r="0.3"/><circle cx="175.0" cy="233.6" r="0.3"/><circle cx="190.3" cy="212.0" r="0.3"/><circle cx="182.6" cy="238.9" r="0.3"/><circle cx="191.5" cy="220.1" r="0.3"/><circle cx="187.5" cy="214.9" r="0.3"/><circle cx="192.7" cy="227.7" r="0.3"/><circle cx="193.5" cy="217.4" r="0.3"/><circle cx="173.8" cy="235.7" r="0.3"/><circle cx="194.6" cy="228.1" r="0.3"/><circle cx="181.1" cy="218.3" r="0.3"/><circle cx="191.7" cy="242.9" r="0.3"/><circle cx="191.7" cy="235.4" r="0.3"/><circle cx="191.6" cy="224.1" r="0.3"/><circle cx="191.2" cy="221.3" r="0.3"/><circle cx="177.0" cy="226.6" r="0.3"/><circle cx="196.0" cy="216.9" r="0.3"/><circle cx="177.5" cy="247.1" r="0.3"/><circle cx="196.2" cy="219.4" r="0.3"/><circle cx="189.3" cy="242.8" r="0.3"/><circle cx="186.2" cy="230.7" r="0.3"/><circle cx="183.4" cy="221.9" r="0.3"/><circle cx="191.8" cy="212.7" r="0.3"/><circle cx="195.3" cy="237.4" r="0.3"/><circle cx="195.2" cy="232.9" r="0.3"/><circle cx="186.2" cy="230.9" r="0.3"/><circle cx="176.7" cy="246.7" r="0.3"/><circle cx="184.3" cy="224.0" r="0.3"/><circle cx="170.6" cy="243.7" r="0.3"/><circle cx="179.1" cy="240.7" r="0.3"/><circle cx="181.3" cy="242.0" r="0.3"/><circle cx="167.5" cy="241.1" r="0.3"/><circle cx="184.9" cy="243.8" r="0.3"/><circle cx="177.1" cy="229.0" r="0.3"/><circle cx="174.3" cy="235.6" r="0.3"/><circle cx="183.3" cy="224.7" r="0.3"/><circle cx="188.2" cy="225.4" r="0.3"/><circle cx="175.2" cy="234.0" r="0.3"/><circle cx="190.7" cy="225.5" r="0.3"/><circle cx="191.4" cy="234.7" r="0.3"/><circle cx="177.4" cy="225.2" r="0.3"/><circle cx="179.9" cy="237.7" r="0.3"/><circle cx="177.0" cy="237.4" r="0.3"/><circle cx="181.4" cy="237.4" r="0.3"/><circle cx="177.2" cy="244.4" r="0.3"/><circle cx="196.6" cy="225.2" r="0.3"/><circle cx="165.7" cy="241.9" r="0.3"/><circle cx="186.2" cy="244.7" r="0.3"/><circle cx="191.1" cy="236.4" r="0.3"/><circle cx="188.9" cy="232.4" r="0.3"/><circle cx="190.4" cy="212.7" r="0.3"/><circle cx="194.5" cy="217.8" r="0.3"/><circle cx="165.6" cy="243.1" r="0.3"/><circle cx="186.6" cy="242.8" r="0.3"/><circle cx="191.4" cy="212.4" r="0.3"/><circle cx="190.2" cy="230.4" r="0.3"/><circle cx="188.2" cy="215.1" r="0.3"/><circle cx="189.5" cy="246.5" r="0.3"/><circle cx="182.4" cy="242.5" r="0.3"/><circle cx="170.5" cy="234.4" r="0.3"/><circle cx="189.6" cy="226.0" r="0.3"/><circle cx="198.0" cy="226.7" r="0.3"/><circle cx="189.4" cy="217.1" r="0.3"/><circle cx="187.3" cy="239.7" r="0.3"/><circle cx="186.6" cy="230.6" r="0.3"/><circle cx="179.4" cy="235.4" r="0.3"/><circle cx="195.1" cy="216.7" r="0.3"/><circle cx="164.6" cy="239.4" r="0.3"/><circle cx="195.8" cy="230.7" r="0.3"/><circle cx="177.8" cy="238.3" r="0.3"/><circle cx="187.3" cy="247.2" r="0.3"/><circle cx="172.2" cy="237.8" r="0.3"/><circle cx="176.7" cy="243.4" r="0.3"/><circle cx="183.2" cy="221.2" r="0.3"/><circle cx="179.2" cy="225.5" r="0.3"/></g>
<path d="M161.5,249 L161.9,246 L179.2,230.8 L181.5,229.2 L184,231 L185,236 L183,237.5 L176.5,249 Z" fill="#cecece" stroke="none" stroke-width="0.8" />
<path d="M173.2,249 L178.3,239.5 L181,236.5 L182,238.5 L177.3,249 Z" fill="#9a9a9a" fill-opacity="0.9" filter="url(#bl2)"/>
<path d="M161.5,249 L161.6,244.5 L166,244.5 L167,249 Z" fill="#6a6a6a" fill-opacity="0.8" filter="url(#bl2)"/>
<path d="M161.9,246.6 L179.2,230.8 L181.6,229.3" fill="none" stroke="#262626" stroke-width="1.0" />
<path d="M163.6,246.6 L181.2,232.4" fill="none" stroke="#5a5a5a" stroke-width="0.7" />
<path d="M183,237.5 L176.6,247.6" fill="none" stroke="#777" stroke-width="0.5" />
<path d="M183.3,220.3 L187.9,219.1 L192.5,219.5 L194.1,221.3 L193,224.4 L191,227.5 L185.8,228.6 L183.3,228 L182.2,225.5 L182.7,222.4 Z" fill="#d2d2d2" stroke="#2e2e2e" stroke-width="0.8" />
<path d="M185,222.5 L190,221.5 L192,223.5 L189.5,226.5 L185.5,226.5 Z" fill="#a8a8a8" fill-opacity="0.8" filter="url(#bl2)"/>
<path d="M180.2,226 Q180.5,229.5 183,231" fill="none" stroke="#2e2e2e" stroke-width="0.8" />
<circle cx="185.20" cy="234.60" r="1.8" fill="#666"/>
<circle cx="185.20" cy="234.60" r="1.25" fill="#fff"/>
<path d="M214.5,249 L215,243 L231,228 L236,226 L242,228 L244,240 L236,249 Z" fill="#b5b5b5" fill-opacity="0.3" filter="url(#bl)"/>
<g fill="#666" fill-opacity="0.5"><circle cx="225.0" cy="243.4" r="0.3"/><circle cx="219.2" cy="248.8" r="0.3"/><circle cx="230.1" cy="239.0" r="0.3"/><circle cx="229.7" cy="244.9" r="0.3"/><circle cx="241.2" cy="237.9" r="0.3"/><circle cx="230.1" cy="242.0" r="0.3"/><circle cx="242.3" cy="234.0" r="0.3"/><circle cx="238.3" cy="248.0" r="0.3"/><circle cx="229.7" cy="229.7" r="0.3"/><circle cx="222.1" cy="241.9" r="0.3"/><circle cx="236.4" cy="248.0" r="0.3"/><circle cx="242.3" cy="230.1" r="0.3"/><circle cx="220.6" cy="241.6" r="0.3"/><circle cx="242.4" cy="246.5" r="0.3"/><circle cx="222.8" cy="245.6" r="0.3"/><circle cx="224.7" cy="234.6" r="0.3"/><circle cx="238.2" cy="226.1" r="0.3"/><circle cx="217.5" cy="244.8" r="0.3"/><circle cx="233.4" cy="240.9" r="0.3"/><circle cx="228.7" cy="236.1" r="0.3"/><circle cx="221.3" cy="238.6" r="0.3"/><circle cx="245.5" cy="233.8" r="0.3"/><circle cx="232.2" cy="227.0" r="0.3"/><circle cx="223.4" cy="240.6" r="0.3"/><circle cx="218.2" cy="246.2" r="0.3"/><circle cx="244.0" cy="226.4" r="0.3"/><circle cx="245.1" cy="233.4" r="0.3"/><circle cx="239.6" cy="242.9" r="0.3"/><circle cx="224.1" cy="240.9" r="0.3"/><circle cx="235.8" cy="244.2" r="0.3"/><circle cx="223.1" cy="242.9" r="0.3"/><circle cx="245.7" cy="240.8" r="0.3"/><circle cx="231.9" cy="226.8" r="0.3"/><circle cx="230.6" cy="232.8" r="0.3"/><circle cx="237.8" cy="241.0" r="0.3"/><circle cx="232.9" cy="228.5" r="0.3"/><circle cx="235.5" cy="239.8" r="0.3"/><circle cx="220.3" cy="246.2" r="0.3"/><circle cx="235.8" cy="227.1" r="0.3"/><circle cx="244.8" cy="227.5" r="0.3"/><circle cx="225.3" cy="242.0" r="0.3"/><circle cx="233.9" cy="237.9" r="0.3"/><circle cx="235.5" cy="235.4" r="0.3"/><circle cx="216.7" cy="241.9" r="0.3"/><circle cx="239.0" cy="237.6" r="0.3"/><circle cx="238.5" cy="233.0" r="0.3"/><circle cx="230.9" cy="230.2" r="0.3"/><circle cx="239.5" cy="232.9" r="0.3"/><circle cx="225.3" cy="234.1" r="0.3"/><circle cx="232.1" cy="243.3" r="0.3"/><circle cx="226.0" cy="245.2" r="0.3"/><circle cx="239.8" cy="242.2" r="0.3"/><circle cx="228.0" cy="242.6" r="0.3"/><circle cx="241.0" cy="242.7" r="0.3"/><circle cx="233.7" cy="227.7" r="0.3"/><circle cx="231.6" cy="238.2" r="0.3"/><circle cx="239.9" cy="224.8" r="0.3"/><circle cx="240.6" cy="246.3" r="0.3"/><circle cx="245.4" cy="233.6" r="0.3"/><circle cx="232.5" cy="238.6" r="0.3"/><circle cx="235.1" cy="248.4" r="0.3"/><circle cx="236.8" cy="231.5" r="0.3"/><circle cx="242.5" cy="236.1" r="0.3"/><circle cx="234.0" cy="242.2" r="0.3"/><circle cx="236.0" cy="236.3" r="0.3"/><circle cx="231.5" cy="235.5" r="0.3"/><circle cx="220.8" cy="237.2" r="0.3"/><circle cx="235.5" cy="235.1" r="0.3"/><circle cx="232.9" cy="248.0" r="0.3"/><circle cx="243.5" cy="227.4" r="0.3"/><circle cx="240.3" cy="239.6" r="0.3"/><circle cx="232.0" cy="247.2" r="0.3"/><circle cx="225.0" cy="245.8" r="0.3"/><circle cx="237.1" cy="227.4" r="0.3"/><circle cx="242.4" cy="239.0" r="0.3"/><circle cx="244.6" cy="241.9" r="0.3"/><circle cx="238.5" cy="232.6" r="0.3"/><circle cx="240.7" cy="247.3" r="0.3"/><circle cx="242.5" cy="234.9" r="0.3"/><circle cx="239.1" cy="236.1" r="0.3"/><circle cx="237.2" cy="237.4" r="0.3"/><circle cx="228.2" cy="240.2" r="0.3"/><circle cx="224.4" cy="235.6" r="0.3"/><circle cx="239.1" cy="234.0" r="0.3"/><circle cx="220.4" cy="246.5" r="0.3"/><circle cx="237.9" cy="233.2" r="0.3"/><circle cx="226.6" cy="237.2" r="0.3"/><circle cx="233.9" cy="229.6" r="0.3"/><circle cx="240.0" cy="227.6" r="0.3"/><circle cx="229.4" cy="228.9" r="0.3"/><circle cx="229.1" cy="234.2" r="0.3"/><circle cx="237.4" cy="225.3" r="0.3"/><circle cx="227.6" cy="233.9" r="0.3"/><circle cx="215.4" cy="248.1" r="0.3"/><circle cx="229.9" cy="228.1" r="0.3"/><circle cx="234.7" cy="232.7" r="0.3"/><circle cx="238.1" cy="230.9" r="0.3"/><circle cx="240.1" cy="235.6" r="0.3"/><circle cx="244.8" cy="231.5" r="0.3"/><circle cx="241.0" cy="239.7" r="0.3"/><circle cx="236.7" cy="248.2" r="0.3"/><circle cx="243.8" cy="229.0" r="0.3"/><circle cx="246.2" cy="235.9" r="0.3"/><circle cx="240.6" cy="246.9" r="0.3"/><circle cx="224.4" cy="239.2" r="0.3"/><circle cx="245.3" cy="226.2" r="0.3"/><circle cx="224.0" cy="245.2" r="0.3"/><circle cx="225.4" cy="241.0" r="0.3"/><circle cx="244.7" cy="228.4" r="0.3"/><circle cx="238.5" cy="242.3" r="0.3"/></g>
<path d="M215.1,247.8 L233.8,230.3 L235.6,232.2 L228.5,248.1 Z" fill="#d8d8d8" stroke="#222" stroke-width="0.9" />
<path d="M216.2,245.4 L233.4,230.6" fill="none" stroke="#222" stroke-width="1.0" />
<path d="M218.5,246.6 L232.4,233 L233.4,234.4 L227.5,247.6 Z" fill="#efefef" fill-opacity="1" />
<path d="M214.3,243 L218,243.5 L219,248.5 L214.3,248.5 Z" fill="#333" fill-opacity="0.8" filter="url(#bl2)"/>
<path d="M180.0,200.5 V226.2 L209.2,229.3" fill="none" stroke="#3a3a3a" stroke-width="0.75" />
<path d="M233.7,200.5 V225.5 L236.5,229.3 L263.3,229.0" fill="none" stroke="#3a3a3a" stroke-width="0.75" />
<text x="171.90" y="187.60" font-size="6.6" fill="#c41630" textLength="23.40" lengthAdjust="spacingAndGlyphs" >shCntrl</text>
<text x="173.50" y="196.60" font-size="6.6" fill="#c41630" textLength="20.40" lengthAdjust="spacingAndGlyphs" >15.9%</text>
<text x="219.20" y="186.60" font-size="6.6" fill="#165080" textLength="33.20" lengthAdjust="spacingAndGlyphs" >1shPLAG1</text>
<text x="225.80" y="196.50" font-size="6.6" fill="#165080" textLength="20.10" lengthAdjust="spacingAndGlyphs" >0.11%</text>
<text x="148.60" y="227.00" font-size="8.0" fill="#231f20" stroke="#231f20" stroke-width="0.12" textLength="11.50" lengthAdjust="spacingAndGlyphs" transform="rotate(-90 148.60 227.00)" >GFP</text>
<text x="177.20" y="270.20" font-size="8.7" fill="#231f20" stroke="#231f20" stroke-width="0.16" textLength="65.00" lengthAdjust="spacingAndGlyphs" >Human CD45-PacBlue</text>
<line x1="322.70" y1="179.40" x2="322.70" y2="256.95" stroke="#2a2a2a" stroke-width="0.9" />
<line x1="320.00" y1="256.50" x2="322.70" y2="256.50" stroke="#2a2a2a" stroke-width="0.8" />
<text x="317.40" y="258.80" font-size="6.4" fill="#231f20" stroke="#231f20" stroke-width="0.12" text-anchor="end" >0</text>
<line x1="320.00" y1="244.22" x2="322.70" y2="244.22" stroke="#2a2a2a" stroke-width="0.8" />
<text x="317.40" y="246.52" font-size="6.4" fill="#231f20" stroke="#231f20" stroke-width="0.12" text-anchor="end" >0.2</text>
<line x1="320.00" y1="231.94" x2="322.70" y2="231.94" stroke="#2a2a2a" stroke-width="0.8" />
<text x="317.40" y="234.24" font-size="6.4" fill="#231f20" stroke="#231f20" stroke-width="0.12" text-anchor="end" >0.4</text>
<line x1="320.00" y1="219.66" x2="322.70" y2="219.66" stroke="#2a2a2a" stroke-width="0.8" />
<text x="317.40" y="221.96" font-size="6.4" fill="#231f20" stroke="#231f20" stroke-width="0.12" text-anchor="end" >0.6</text>
<line x1="320.00" y1="207.38" x2="322.70" y2="207.38" stroke="#2a2a2a" stroke-width="0.8" />
<text x="317.40" y="209.68" font-size="6.4" fill="#231f20" stroke="#231f20" stroke-width="0.12" text-anchor="end" >0.8</text>
<line x1="320.00" y1="195.10" x2="322.70" y2="195.10" stroke="#2a2a2a" stroke-width="0.8" />
<text x="317.40" y="197.40" font-size="6.4" fill="#231f20" stroke="#231f20" stroke-width="0.12" text-anchor="end" >1</text>
<line x1="320.00" y1="182.82" x2="322.70" y2="182.82" stroke="#2a2a2a" stroke-width="0.8" />
<text x="317.40" y="185.12" font-size="6.4" fill="#231f20" stroke="#231f20" stroke-width="0.12" text-anchor="end" >1.2</text>
<line x1="322.70" y1="256.50" x2="388.90" y2="256.50" stroke="#2a2a2a" stroke-width="0.9" />
<rect x="328.70" y="204.40" width="22.20" height="52.10" fill="#df8897" />
<rect x="362.10" y="253.20" width="21.60" height="3.30" fill="#8aa8c4" />
<line x1="339.80" y1="195.00" x2="339.80" y2="213.50" stroke="#2a2a2a" stroke-width="0.8" />
<line x1="337.80" y1="195.00" x2="341.80" y2="195.00" stroke="#2a2a2a" stroke-width="0.8" />
<line x1="337.80" y1="213.50" x2="341.80" y2="213.50" stroke="#2a2a2a" stroke-width="0.8" />
<path d="M346.5,204.4 V199.8 H365.9 V253.2" fill="none" stroke="#2a2a2a" stroke-width="0.8" />
<circle cx="339.80" cy="187.70" r="1.65" fill="#c41630"/>
<circle cx="339.80" cy="189.90" r="1.65" fill="#c41630"/>
<circle cx="339.80" cy="225.30" r="1.65" fill="#c41630"/>
<circle cx="339.80" cy="227.70" r="1.65" fill="#c41630"/>
<circle cx="372.60" cy="250.30" r="1.3" fill="#165080"/>
<circle cx="372.60" cy="252.00" r="1.3" fill="#165080"/>
<circle cx="372.60" cy="253.60" r="1.3" fill="#165080"/>
<text x="346.70" y="184.00" font-size="8.9" fill="#231f20" stroke="#231f20" stroke-width="0.12" textLength="19.30" lengthAdjust="spacingAndGlyphs" >14.7×</text>
<polygon points="352.20,188.45 351.74,189.57 350.54,189.66 351.46,190.44 351.17,191.62 352.20,190.98 353.23,191.62 352.94,190.44 353.86,189.66 352.66,189.57" fill="#1a1a1a"/>
<polygon points="356.00,188.45 355.54,189.57 354.34,189.66 355.26,190.44 354.97,191.62 356.00,190.98 357.03,191.62 356.74,190.44 357.66,189.66 356.46,189.57" fill="#1a1a1a"/>
<polygon points="359.80,188.45 359.34,189.57 358.14,189.66 359.06,190.44 358.77,191.62 359.80,190.98 360.83,191.62 360.54,190.44 361.46,189.66 360.26,189.57" fill="#1a1a1a"/>
<line x1="339.30" y1="256.50" x2="339.30" y2="258.70" stroke="#2a2a2a" stroke-width="0.8" />
<text x="329.40" y="267.30" font-size="6.4" fill="#231f20" stroke="#231f20" stroke-width="0.1" textLength="19.70" lengthAdjust="spacingAndGlyphs" >shCntrl</text>
<line x1="372.80" y1="256.50" x2="372.80" y2="258.70" stroke="#2a2a2a" stroke-width="0.8" />
<text x="358.00" y="267.30" font-size="6.4" fill="#231f20" stroke="#231f20" stroke-width="0.1" textLength="28.20" lengthAdjust="spacingAndGlyphs" >1shPLAG1</text>
<text x="290.20" y="262.00" font-size="8.5" fill="#231f20" stroke="#231f20" stroke-width="0.12" textLength="88.10" lengthAdjust="spacingAndGlyphs" transform="rotate(-90 290.20 262.00)" >Output/input %GFP of human</text>
<text x="300.90" y="255.90" font-size="8.5" fill="#231f20" stroke="#231f20" stroke-width="0.12" textLength="75.40" lengthAdjust="spacingAndGlyphs" transform="rotate(-90 300.90 255.90)" >CD45<tspan dy="-2.7" font-size="80%" font-weight="normal">+</tspan><tspan dy="2.7">​</tspan> in injected femur</text>
<line x1="441.00" y1="179.30" x2="441.00" y2="256.95" stroke="#2a2a2a" stroke-width="0.9" />
<line x1="438.30" y1="256.50" x2="441.00" y2="256.50" stroke="#2a2a2a" stroke-width="0.8" />
<text x="435.60" y="258.80" font-size="6.4" fill="#231f20" stroke="#231f20" stroke-width="0.12" text-anchor="end" >0</text>
<line x1="438.30" y1="247.31" x2="441.00" y2="247.31" stroke="#2a2a2a" stroke-width="0.8" />
<text x="435.60" y="249.61" font-size="6.4" fill="#231f20" stroke="#231f20" stroke-width="0.12" text-anchor="end" >0.2</text>
<line x1="438.30" y1="238.12" x2="441.00" y2="238.12" stroke="#2a2a2a" stroke-width="0.8" />
<text x="435.60" y="240.42" font-size="6.4" fill="#231f20" stroke="#231f20" stroke-width="0.12" text-anchor="end" >0.4</text>
<line x1="438.30" y1="228.93" x2="441.00" y2="228.93" stroke="#2a2a2a" stroke-width="0.8" />
<text x="435.60" y="231.23" font-size="6.4" fill="#231f20" stroke="#231f20" stroke-width="0.12" text-anchor="end" >0.6</text>
<line x1="438.30" y1="219.74" x2="441.00" y2="219.74" stroke="#2a2a2a" stroke-width="0.8" />
<text x="435.60" y="222.04" font-size="6.4" fill="#231f20" stroke="#231f20" stroke-width="0.12" text-anchor="end" >0.8</text>
<line x1="438.30" y1="210.55" x2="441.00" y2="210.55" stroke="#2a2a2a" stroke-width="0.8" />
<text x="435.60" y="212.85" font-size="6.4" fill="#231f20" stroke="#231f20" stroke-width="0.12" text-anchor="end" >1</text>
<line x1="438.30" y1="201.36" x2="441.00" y2="201.36" stroke="#2a2a2a" stroke-width="0.8" />
<text x="435.60" y="203.66" font-size="6.4" fill="#231f20" stroke="#231f20" stroke-width="0.12" text-anchor="end" >1.2</text>
<line x1="438.30" y1="192.17" x2="441.00" y2="192.17" stroke="#2a2a2a" stroke-width="0.8" />
<text x="435.60" y="194.47" font-size="6.4" fill="#231f20" stroke="#231f20" stroke-width="0.12" text-anchor="end" >1.4</text>
<line x1="438.30" y1="182.98" x2="441.00" y2="182.98" stroke="#2a2a2a" stroke-width="0.8" />
<text x="435.60" y="185.28" font-size="6.4" fill="#231f20" stroke="#231f20" stroke-width="0.12" text-anchor="end" >1.6</text>
<line x1="441.00" y1="256.50" x2="512.60" y2="256.50" stroke="#2a2a2a" stroke-width="0.9" />
<rect x="447.50" y="211.30" width="23.30" height="45.20" fill="#df8897" />
<rect x="483.20" y="253.00" width="23.80" height="3.50" fill="#8aa8c4" />
<line x1="459.00" y1="202.40" x2="459.00" y2="216.70" stroke="#2a2a2a" stroke-width="0.8" />
<line x1="457.00" y1="202.40" x2="461.00" y2="202.40" stroke="#2a2a2a" stroke-width="0.8" />
<line x1="457.00" y1="216.70" x2="461.00" y2="216.70" stroke="#2a2a2a" stroke-width="0.8" />
<path d="M466.7,211.3 V206.4 H486.8 V252.5" fill="none" stroke="#2a2a2a" stroke-width="0.8" />
<circle cx="459.00" cy="190.10" r="1.65" fill="#c41630"/>
<circle cx="459.00" cy="200.00" r="1.65" fill="#c41630"/>
<circle cx="459.00" cy="213.00" r="1.65" fill="#c41630"/>
<circle cx="459.00" cy="218.60" r="1.65" fill="#c41630"/>
<circle cx="459.00" cy="232.60" r="1.65" fill="#c41630"/>
<circle cx="494.70" cy="250.60" r="1.3" fill="#165080"/>
<circle cx="494.70" cy="252.20" r="1.3" fill="#165080"/>
<circle cx="494.70" cy="253.60" r="1.3" fill="#165080"/>
<text x="466.70" y="183.50" font-size="8.9" fill="#231f20" stroke="#231f20" stroke-width="0.12" textLength="19.80" lengthAdjust="spacingAndGlyphs" >11.6×</text>
<polygon points="472.60,188.45 472.14,189.57 470.94,189.66 471.86,190.44 471.57,191.62 472.60,190.98 473.63,191.62 473.34,190.44 474.26,189.66 473.06,189.57" fill="#1a1a1a"/>
<polygon points="476.40,188.45 475.94,189.57 474.74,189.66 475.66,190.44 475.37,191.62 476.40,190.98 477.43,191.62 477.14,190.44 478.06,189.66 476.86,189.57" fill="#1a1a1a"/>
<polygon points="480.20,188.45 479.74,189.57 478.54,189.66 479.46,190.44 479.17,191.62 480.20,190.98 481.23,191.62 480.94,190.44 481.86,189.66 480.66,189.57" fill="#1a1a1a"/>
<line x1="459.00" y1="256.50" x2="459.00" y2="258.70" stroke="#2a2a2a" stroke-width="0.8" />
<text x="449.10" y="266.80" font-size="6.4" fill="#231f20" stroke="#231f20" stroke-width="0.1" textLength="19.80" lengthAdjust="spacingAndGlyphs" >shCntrl</text>
<line x1="494.70" y1="256.50" x2="494.70" y2="258.70" stroke="#2a2a2a" stroke-width="0.8" />
<text x="480.50" y="266.80" font-size="6.4" fill="#231f20" stroke="#231f20" stroke-width="0.1" textLength="28.40" lengthAdjust="spacingAndGlyphs" >1shPLAG1</text>
<text x="411.60" y="249.10" font-size="8.5" fill="#231f20" stroke="#231f20" stroke-width="0.12" textLength="62.90" lengthAdjust="spacingAndGlyphs" transform="rotate(-90 411.60 249.10)" >Output/input %GFP of</text>
<text x="420.90" y="248.10" font-size="8.5" fill="#231f20" stroke="#231f20" stroke-width="0.12" textLength="57.70" lengthAdjust="spacingAndGlyphs" transform="rotate(-90 420.90 248.10)" >human CD45<tspan dy="-2.7" font-size="80%" font-weight="normal">+</tspan><tspan dy="2.7">​</tspan> in BM</text>
<text x="8.90" y="292.00" font-size="10.4" fill="#000" stroke="#000" stroke-width="0.3" font-weight="bold" textLength="6.10" lengthAdjust="spacingAndGlyphs" >F</text>
<line x1="43.80" y1="308.40" x2="43.80" y2="387.75" stroke="#2a2a2a" stroke-width="0.9" />
<line x1="41.10" y1="387.30" x2="43.80" y2="387.30" stroke="#2a2a2a" stroke-width="0.8" />
<text x="37.80" y="389.75" font-size="6.8" fill="#231f20" stroke="#231f20" stroke-width="0.12" text-anchor="end" >0</text>
<line x1="41.10" y1="377.93" x2="43.80" y2="377.93" stroke="#2a2a2a" stroke-width="0.8" />
<text x="37.80" y="380.37" font-size="6.8" fill="#231f20" stroke="#231f20" stroke-width="0.12" text-anchor="end" >5</text>
<line x1="41.10" y1="368.55" x2="43.80" y2="368.55" stroke="#2a2a2a" stroke-width="0.8" />
<text x="37.80" y="371.00" font-size="6.8" fill="#231f20" stroke="#231f20" stroke-width="0.12" text-anchor="end" >10</text>
<line x1="41.10" y1="359.18" x2="43.80" y2="359.18" stroke="#2a2a2a" stroke-width="0.8" />
<text x="37.80" y="361.62" font-size="6.8" fill="#231f20" stroke="#231f20" stroke-width="0.12" text-anchor="end" >15</text>
<line x1="41.10" y1="349.80" x2="43.80" y2="349.80" stroke="#2a2a2a" stroke-width="0.8" />
<text x="37.80" y="352.25" font-size="6.8" fill="#231f20" stroke="#231f20" stroke-width="0.12" text-anchor="end" >20</text>
<line x1="41.10" y1="340.43" x2="43.80" y2="340.43" stroke="#2a2a2a" stroke-width="0.8" />
<text x="37.80" y="342.87" font-size="6.8" fill="#231f20" stroke="#231f20" stroke-width="0.12" text-anchor="end" >25</text>
<line x1="41.10" y1="331.05" x2="43.80" y2="331.05" stroke="#2a2a2a" stroke-width="0.8" />
<text x="37.80" y="333.50" font-size="6.8" fill="#231f20" stroke="#231f20" stroke-width="0.12" text-anchor="end" >30</text>
<line x1="41.10" y1="321.68" x2="43.80" y2="321.68" stroke="#2a2a2a" stroke-width="0.8" />
<text x="37.80" y="324.12" font-size="6.8" fill="#231f20" stroke="#231f20" stroke-width="0.12" text-anchor="end" >35</text>
<line x1="41.10" y1="312.30" x2="43.80" y2="312.30" stroke="#2a2a2a" stroke-width="0.8" />
<text x="37.80" y="314.75" font-size="6.8" fill="#231f20" stroke="#231f20" stroke-width="0.12" text-anchor="end" >40</text>
<line x1="43.80" y1="387.30" x2="184.40" y2="387.30" stroke="#2a2a2a" stroke-width="0.9" />
<line x1="58.80" y1="387.30" x2="58.80" y2="389.70" stroke="#2a2a2a" stroke-width="0.8" />
<line x1="52.50" y1="334.05" x2="52.50" y2="352.43" stroke="#2a2a2a" stroke-width="0.8" />
<line x1="50.60" y1="334.05" x2="54.40" y2="334.05" stroke="#2a2a2a" stroke-width="0.8" />
<rect x="46.80" y="352.43" width="11.40" height="34.88" fill="#c41630" />
<line x1="65.65" y1="368.93" x2="65.65" y2="376.24" stroke="#2a2a2a" stroke-width="0.8" />
<line x1="63.75" y1="368.93" x2="67.55" y2="368.93" stroke="#2a2a2a" stroke-width="0.8" />
<rect x="60.10" y="376.24" width="11.10" height="11.06" fill="#3cb44e" />
<text x="50.40" y="398.60" font-size="7.2" fill="#231f20" textLength="16.90" lengthAdjust="spacingAndGlyphs" >BFU-E</text>
<line x1="87.40" y1="387.30" x2="87.40" y2="389.70" stroke="#2a2a2a" stroke-width="0.8" />
<line x1="81.10" y1="321.86" x2="81.10" y2="336.11" stroke="#2a2a2a" stroke-width="0.8" />
<line x1="79.20" y1="321.86" x2="83.00" y2="321.86" stroke="#2a2a2a" stroke-width="0.8" />
<rect x="75.40" y="336.11" width="11.40" height="51.19" fill="#c41630" />
<line x1="94.25" y1="338.74" x2="94.25" y2="352.99" stroke="#2a2a2a" stroke-width="0.8" />
<line x1="92.35" y1="338.74" x2="96.15" y2="338.74" stroke="#2a2a2a" stroke-width="0.8" />
<rect x="88.70" y="352.99" width="11.10" height="34.31" fill="#3cb44e" />
<text x="78.10" y="398.60" font-size="7.2" fill="#231f20" textLength="18.30" lengthAdjust="spacingAndGlyphs" >CFU-G</text>
<line x1="116.00" y1="387.30" x2="116.00" y2="389.70" stroke="#2a2a2a" stroke-width="0.8" />
<line x1="109.70" y1="384.68" x2="109.70" y2="386.36" stroke="#2a2a2a" stroke-width="0.8" />
<line x1="107.80" y1="384.68" x2="111.60" y2="384.68" stroke="#2a2a2a" stroke-width="0.8" />
<rect x="104.00" y="386.36" width="11.40" height="0.94" fill="#c41630" />
<line x1="122.85" y1="384.86" x2="122.85" y2="386.55" stroke="#2a2a2a" stroke-width="0.8" />
<line x1="120.95" y1="384.86" x2="124.75" y2="384.86" stroke="#2a2a2a" stroke-width="0.8" />
<rect x="117.30" y="386.55" width="11.10" height="0.75" fill="#3cb44e" />
<text x="106.00" y="398.60" font-size="7.2" fill="#231f20" textLength="19.50" lengthAdjust="spacingAndGlyphs" >CFU-M</text>
<line x1="144.60" y1="387.30" x2="144.60" y2="389.70" stroke="#2a2a2a" stroke-width="0.8" />
<line x1="138.30" y1="381.11" x2="138.30" y2="383.55" stroke="#2a2a2a" stroke-width="0.8" />
<line x1="136.40" y1="381.11" x2="140.20" y2="381.11" stroke="#2a2a2a" stroke-width="0.8" />
<rect x="132.60" y="383.55" width="11.40" height="3.75" fill="#c41630" />
<line x1="151.45" y1="382.43" x2="151.45" y2="384.11" stroke="#2a2a2a" stroke-width="0.8" />
<line x1="149.55" y1="382.43" x2="153.35" y2="382.43" stroke="#2a2a2a" stroke-width="0.8" />
<rect x="145.90" y="384.11" width="11.10" height="3.19" fill="#3cb44e" />
<text x="131.90" y="398.60" font-size="7.2" fill="#231f20" textLength="20.70" lengthAdjust="spacingAndGlyphs" >CFU-GM</text>
<line x1="173.20" y1="387.30" x2="173.20" y2="389.70" stroke="#2a2a2a" stroke-width="0.8" />
<line x1="166.90" y1="384.86" x2="166.90" y2="386.55" stroke="#2a2a2a" stroke-width="0.8" />
<line x1="165.00" y1="384.86" x2="168.80" y2="384.86" stroke="#2a2a2a" stroke-width="0.8" />
<rect x="161.20" y="386.55" width="11.40" height="0.75" fill="#c41630" />
<text x="165.70" y="398.60" font-size="7.2" fill="#231f20" textLength="17.40" lengthAdjust="spacingAndGlyphs" >GEMM</text>
<text x="51.90" y="313.60" font-size="8.4" fill="#231f20" stroke="#231f20" stroke-width="0.12" textLength="23.00" lengthAdjust="spacingAndGlyphs" >p=0.16</text>
<rect x="136.10" y="314.10" width="4.80" height="4.80" fill="#c41630" />
<text x="144.60" y="318.50" font-size="6.6" fill="#231f20" textLength="23.40" lengthAdjust="spacingAndGlyphs" >shCntrl</text>
<rect x="136.10" y="323.90" width="4.80" height="4.80" fill="#3cb44e" />
<text x="144.60" y="328.30" font-size="6.6" fill="#231f20" textLength="34.10" lengthAdjust="spacingAndGlyphs" >2shPLAG1</text>
<text x="15.30" y="371.10" font-size="8.4" fill="#231f20" stroke="#231f20" stroke-width="0.12" textLength="47.60" lengthAdjust="spacingAndGlyphs" transform="rotate(-90 15.30 371.10)" >Colonies per 500</text>
<text x="23.60" y="368.90" font-size="8.4" fill="#231f20" stroke="#231f20" stroke-width="0.12" textLength="41.00" lengthAdjust="spacingAndGlyphs" transform="rotate(-90 23.60 368.90)" >shRNA<tspan dy="-2.7" font-size="80%" font-weight="normal">+</tspan><tspan dy="2.7">​</tspan> cells</text>
<line x1="223.20" y1="308.40" x2="223.20" y2="387.35" stroke="#2a2a2a" stroke-width="0.9" />
<line x1="220.50" y1="387.10" x2="223.20" y2="387.10" stroke="#2a2a2a" stroke-width="0.8" />
<text x="217.20" y="389.37" font-size="6.3" fill="#231f20" stroke="#231f20" stroke-width="0.12" text-anchor="end" >0</text>
<line x1="220.50" y1="378.80" x2="223.20" y2="378.80" stroke="#2a2a2a" stroke-width="0.8" />
<text x="217.20" y="381.07" font-size="6.3" fill="#231f20" stroke="#231f20" stroke-width="0.12" text-anchor="end" >10</text>
<line x1="220.50" y1="370.50" x2="223.20" y2="370.50" stroke="#2a2a2a" stroke-width="0.8" />
<text x="217.20" y="372.77" font-size="6.3" fill="#231f20" stroke="#231f20" stroke-width="0.12" text-anchor="end" >20</text>
<line x1="220.50" y1="362.20" x2="223.20" y2="362.20" stroke="#2a2a2a" stroke-width="0.8" />
<text x="217.20" y="364.47" font-size="6.3" fill="#231f20" stroke="#231f20" stroke-width="0.12" text-anchor="end" >30</text>
<line x1="220.50" y1="353.90" x2="223.20" y2="353.90" stroke="#2a2a2a" stroke-width="0.8" />
<text x="217.20" y="356.17" font-size="6.3" fill="#231f20" stroke="#231f20" stroke-width="0.12" text-anchor="end" >40</text>
<line x1="220.50" y1="345.60" x2="223.20" y2="345.60" stroke="#2a2a2a" stroke-width="0.8" />
<text x="217.20" y="347.87" font-size="6.3" fill="#231f20" stroke="#231f20" stroke-width="0.12" text-anchor="end" >50</text>
<line x1="220.50" y1="337.30" x2="223.20" y2="337.30" stroke="#2a2a2a" stroke-width="0.8" />
<text x="217.20" y="339.57" font-size="6.3" fill="#231f20" stroke="#231f20" stroke-width="0.12" text-anchor="end" >60</text>
<line x1="220.50" y1="329.00" x2="223.20" y2="329.00" stroke="#2a2a2a" stroke-width="0.8" />
<text x="217.20" y="331.27" font-size="6.3" fill="#231f20" stroke="#231f20" stroke-width="0.12" text-anchor="end" >70</text>
<line x1="220.50" y1="320.70" x2="223.20" y2="320.70" stroke="#2a2a2a" stroke-width="0.8" />
<text x="217.20" y="322.97" font-size="6.3" fill="#231f20" stroke="#231f20" stroke-width="0.12" text-anchor="end" >80</text>
<line x1="220.50" y1="312.40" x2="223.20" y2="312.40" stroke="#2a2a2a" stroke-width="0.8" />
<text x="217.20" y="314.67" font-size="6.3" fill="#231f20" stroke="#231f20" stroke-width="0.12" text-anchor="end" >90</text>
<line x1="223.20" y1="386.90" x2="284.00" y2="386.90" stroke="#2a2a2a" stroke-width="0.9" />
<rect x="228.30" y="345.40" width="20.90" height="41.50" fill="#df8897" />
<rect x="259.70" y="364.50" width="20.60" height="22.40" fill="#9bd7a0" />
<line x1="239.00" y1="331.20" x2="239.00" y2="359.60" stroke="#2a2a2a" stroke-width="0.8" />
<line x1="237.00" y1="331.20" x2="241.00" y2="331.20" stroke="#2a2a2a" stroke-width="0.8" />
<line x1="237.00" y1="359.60" x2="241.00" y2="359.60" stroke="#2a2a2a" stroke-width="0.8" />
<line x1="270.30" y1="355.30" x2="270.30" y2="373.20" stroke="#2a2a2a" stroke-width="0.8" />
<line x1="268.30" y1="355.30" x2="272.30" y2="355.30" stroke="#2a2a2a" stroke-width="0.8" />
<line x1="268.30" y1="373.20" x2="272.30" y2="373.20" stroke="#2a2a2a" stroke-width="0.8" />
<line x1="239.00" y1="321.10" x2="270.30" y2="355.30" stroke="#2a2a2a" stroke-width="0.8" />
<line x1="239.00" y1="343.80" x2="270.30" y2="355.30" stroke="#2a2a2a" stroke-width="0.8" />
<line x1="239.00" y1="371.20" x2="270.30" y2="382.40" stroke="#2a2a2a" stroke-width="0.8" />
<circle cx="239.00" cy="321.10" r="1.7" fill="#c41630"/>
<circle cx="239.00" cy="343.80" r="1.7" fill="#c41630"/>
<circle cx="239.00" cy="371.20" r="1.7" fill="#c41630"/>
<circle cx="270.30" cy="355.30" r="1.7" fill="#3cb44e"/>
<circle cx="270.30" cy="382.40" r="1.7" fill="#3cb44e"/>
<text x="236.00" y="313.80" font-size="8.4" fill="#231f20" stroke="#231f20" stroke-width="0.12" textLength="26.90" lengthAdjust="spacingAndGlyphs" >p=0.12</text>
<line x1="238.70" y1="386.90" x2="238.70" y2="389.30" stroke="#2a2a2a" stroke-width="0.8" />
<text x="228.80" y="397.90" font-size="6.4" fill="#231f20" stroke="#231f20" stroke-width="0.1" textLength="19.50" lengthAdjust="spacingAndGlyphs" >shCntrl</text>
<line x1="270.30" y1="386.90" x2="270.30" y2="389.30" stroke="#2a2a2a" stroke-width="0.8" />
<text x="256.00" y="397.90" font-size="6.4" fill="#231f20" stroke="#231f20" stroke-width="0.1" textLength="28.30" lengthAdjust="spacingAndGlyphs" >2shPLAG1</text>
<text x="197.90" y="379.10" font-size="8.4" fill="#231f20" stroke="#231f20" stroke-width="0.12" textLength="63.30" lengthAdjust="spacingAndGlyphs" transform="rotate(-90 197.90 379.10)" >Total colonies per 500</text>
<text x="206.80" y="367.00" font-size="8.4" fill="#231f20" stroke="#231f20" stroke-width="0.12" textLength="38.10" lengthAdjust="spacingAndGlyphs" transform="rotate(-90 206.80 367.00)" >shRNA<tspan dy="-2.7" font-size="80%" font-weight="normal">+</tspan><tspan dy="2.7">​</tspan> cells</text>
<text x="285.40" y="291.80" font-size="10.6" fill="#000" stroke="#000" stroke-width="0.3" font-weight="bold" textLength="8.30" lengthAdjust="spacingAndGlyphs" >G</text>
<line x1="290.30" y1="295.80" x2="513.40" y2="295.80" stroke="#606060" stroke-width="1.4" />
<text x="381.00" y="290.30" font-size="8.3" fill="#231f20" textLength="38.30" lengthAdjust="spacingAndGlyphs" >16 weeks</text>
<line x1="297.20" y1="387.40" x2="297.20" y2="321.90" stroke="#2a2a2a" stroke-width="1.0" />
<line x1="296.70" y1="387.40" x2="406.00" y2="387.40" stroke="#2a2a2a" stroke-width="1.0" />
<path d="M295.5,323.29999999999995 L297.2,319.9 L298.9,323.29999999999995 Z" fill="#2a2a2a" stroke="none" stroke-width="0.8" />
<path d="M404.6,385.7 L408.0,387.4 L404.6,389.09999999999997 Z" fill="#2a2a2a" stroke="none" stroke-width="0.8" />
<line x1="299.50" y1="337.00" x2="302.10" y2="337.00" stroke="#2a2a2a" stroke-width="0.9" />
<line x1="300.60" y1="333.54" x2="302.10" y2="333.54" stroke="#2a2a2a" stroke-width="0.6" />
<line x1="299.50" y1="348.60" x2="302.10" y2="348.60" stroke="#2a2a2a" stroke-width="0.9" />
<line x1="300.60" y1="345.14" x2="302.10" y2="345.14" stroke="#2a2a2a" stroke-width="0.6" />
<line x1="300.60" y1="343.11" x2="302.10" y2="343.11" stroke="#2a2a2a" stroke-width="0.6" />
<line x1="300.60" y1="341.68" x2="302.10" y2="341.68" stroke="#2a2a2a" stroke-width="0.6" />
<line x1="300.60" y1="340.56" x2="302.10" y2="340.56" stroke="#2a2a2a" stroke-width="0.6" />
<line x1="300.60" y1="339.65" x2="302.10" y2="339.65" stroke="#2a2a2a" stroke-width="0.6" />
<line x1="300.60" y1="338.88" x2="302.10" y2="338.88" stroke="#2a2a2a" stroke-width="0.6" />
<line x1="300.60" y1="338.21" x2="302.10" y2="338.21" stroke="#2a2a2a" stroke-width="0.6" />
<line x1="300.60" y1="337.63" x2="302.10" y2="337.63" stroke="#2a2a2a" stroke-width="0.6" />
<line x1="299.50" y1="361.80" x2="302.10" y2="361.80" stroke="#2a2a2a" stroke-width="0.9" />
<line x1="300.60" y1="358.34" x2="302.10" y2="358.34" stroke="#2a2a2a" stroke-width="0.6" />
<line x1="300.60" y1="356.31" x2="302.10" y2="356.31" stroke="#2a2a2a" stroke-width="0.6" />
<line x1="300.60" y1="354.88" x2="302.10" y2="354.88" stroke="#2a2a2a" stroke-width="0.6" />
<line x1="300.60" y1="353.76" x2="302.10" y2="353.76" stroke="#2a2a2a" stroke-width="0.6" />
<line x1="300.60" y1="352.85" x2="302.10" y2="352.85" stroke="#2a2a2a" stroke-width="0.6" />
<line x1="300.60" y1="352.08" x2="302.10" y2="352.08" stroke="#2a2a2a" stroke-width="0.6" />
<line x1="300.60" y1="351.41" x2="302.10" y2="351.41" stroke="#2a2a2a" stroke-width="0.6" />
<line x1="300.60" y1="350.83" x2="302.10" y2="350.83" stroke="#2a2a2a" stroke-width="0.6" />
<line x1="299.50" y1="369.20" x2="302.10" y2="369.20" stroke="#2a2a2a" stroke-width="0.9" />
<line x1="300.60" y1="365.74" x2="302.10" y2="365.74" stroke="#2a2a2a" stroke-width="0.6" />
<line x1="300.60" y1="363.71" x2="302.10" y2="363.71" stroke="#2a2a2a" stroke-width="0.6" />
<line x1="300.60" y1="362.28" x2="302.10" y2="362.28" stroke="#2a2a2a" stroke-width="0.6" />
<line x1="300.60" y1="361.16" x2="302.10" y2="361.16" stroke="#2a2a2a" stroke-width="0.6" />
<line x1="300.60" y1="360.25" x2="302.10" y2="360.25" stroke="#2a2a2a" stroke-width="0.6" />
<line x1="300.60" y1="359.48" x2="302.10" y2="359.48" stroke="#2a2a2a" stroke-width="0.6" />
<line x1="300.60" y1="358.81" x2="302.10" y2="358.81" stroke="#2a2a2a" stroke-width="0.6" />
<line x1="300.60" y1="358.23" x2="302.10" y2="358.23" stroke="#2a2a2a" stroke-width="0.6" />
<line x1="299.50" y1="376.50" x2="302.10" y2="376.50" stroke="#2a2a2a" stroke-width="0.9" />
<line x1="300.60" y1="373.04" x2="302.10" y2="373.04" stroke="#2a2a2a" stroke-width="0.6" />
<line x1="300.60" y1="371.01" x2="302.10" y2="371.01" stroke="#2a2a2a" stroke-width="0.6" />
<line x1="300.60" y1="369.58" x2="302.10" y2="369.58" stroke="#2a2a2a" stroke-width="0.6" />
<line x1="300.60" y1="368.46" x2="302.10" y2="368.46" stroke="#2a2a2a" stroke-width="0.6" />
<line x1="300.60" y1="367.55" x2="302.10" y2="367.55" stroke="#2a2a2a" stroke-width="0.6" />
<line x1="300.60" y1="366.78" x2="302.10" y2="366.78" stroke="#2a2a2a" stroke-width="0.6" />
<line x1="300.60" y1="366.11" x2="302.10" y2="366.11" stroke="#2a2a2a" stroke-width="0.6" />
<line x1="300.60" y1="365.53" x2="302.10" y2="365.53" stroke="#2a2a2a" stroke-width="0.6" />
<line x1="302.00" y1="379.30" x2="302.00" y2="381.90" stroke="#2a2a2a" stroke-width="0.9" />
<line x1="305.46" y1="379.30" x2="305.46" y2="380.80" stroke="#2a2a2a" stroke-width="0.6" />
<line x1="307.49" y1="379.30" x2="307.49" y2="380.80" stroke="#2a2a2a" stroke-width="0.6" />
<line x1="308.92" y1="379.30" x2="308.92" y2="380.80" stroke="#2a2a2a" stroke-width="0.6" />
<line x1="310.04" y1="379.30" x2="310.04" y2="380.80" stroke="#2a2a2a" stroke-width="0.6" />
<line x1="310.95" y1="379.30" x2="310.95" y2="380.80" stroke="#2a2a2a" stroke-width="0.6" />
<line x1="311.72" y1="379.30" x2="311.72" y2="380.80" stroke="#2a2a2a" stroke-width="0.6" />
<line x1="312.39" y1="379.30" x2="312.39" y2="380.80" stroke="#2a2a2a" stroke-width="0.6" />
<line x1="312.97" y1="379.30" x2="312.97" y2="380.80" stroke="#2a2a2a" stroke-width="0.6" />
<line x1="313.50" y1="379.30" x2="313.50" y2="381.90" stroke="#2a2a2a" stroke-width="0.9" />
<line x1="316.96" y1="379.30" x2="316.96" y2="380.80" stroke="#2a2a2a" stroke-width="0.6" />
<line x1="318.99" y1="379.30" x2="318.99" y2="380.80" stroke="#2a2a2a" stroke-width="0.6" />
<line x1="320.42" y1="379.30" x2="320.42" y2="380.80" stroke="#2a2a2a" stroke-width="0.6" />
<line x1="321.54" y1="379.30" x2="321.54" y2="380.80" stroke="#2a2a2a" stroke-width="0.6" />
<line x1="322.45" y1="379.30" x2="322.45" y2="380.80" stroke="#2a2a2a" stroke-width="0.6" />
<line x1="323.22" y1="379.30" x2="323.22" y2="380.80" stroke="#2a2a2a" stroke-width="0.6" />
<line x1="323.89" y1="379.30" x2="323.89" y2="380.80" stroke="#2a2a2a" stroke-width="0.6" />
<line x1="324.47" y1="379.30" x2="324.47" y2="380.80" stroke="#2a2a2a" stroke-width="0.6" />
<line x1="325.00" y1="379.30" x2="325.00" y2="381.90" stroke="#2a2a2a" stroke-width="0.9" />
<line x1="328.46" y1="379.30" x2="328.46" y2="380.80" stroke="#2a2a2a" stroke-width="0.6" />
<line x1="330.49" y1="379.30" x2="330.49" y2="380.80" stroke="#2a2a2a" stroke-width="0.6" />
<line x1="331.92" y1="379.30" x2="331.92" y2="380.80" stroke="#2a2a2a" stroke-width="0.6" />
<line x1="333.04" y1="379.30" x2="333.04" y2="380.80" stroke="#2a2a2a" stroke-width="0.6" />
<line x1="333.95" y1="379.30" x2="333.95" y2="380.80" stroke="#2a2a2a" stroke-width="0.6" />
<line x1="334.72" y1="379.30" x2="334.72" y2="380.80" stroke="#2a2a2a" stroke-width="0.6" />
<line x1="335.39" y1="379.30" x2="335.39" y2="380.80" stroke="#2a2a2a" stroke-width="0.6" />
<line x1="335.97" y1="379.30" x2="335.97" y2="380.80" stroke="#2a2a2a" stroke-width="0.6" />
<line x1="336.50" y1="379.30" x2="336.50" y2="381.90" stroke="#2a2a2a" stroke-width="0.9" />
<line x1="339.96" y1="379.30" x2="339.96" y2="380.80" stroke="#2a2a2a" stroke-width="0.6" />
<line x1="341.99" y1="379.30" x2="341.99" y2="380.80" stroke="#2a2a2a" stroke-width="0.6" />
<line x1="343.42" y1="379.30" x2="343.42" y2="380.80" stroke="#2a2a2a" stroke-width="0.6" />
<line x1="344.54" y1="379.30" x2="344.54" y2="380.80" stroke="#2a2a2a" stroke-width="0.6" />
<line x1="345.45" y1="379.30" x2="345.45" y2="380.80" stroke="#2a2a2a" stroke-width="0.6" />
<line x1="346.22" y1="379.30" x2="346.22" y2="380.80" stroke="#2a2a2a" stroke-width="0.6" />
<line x1="346.89" y1="379.30" x2="346.89" y2="380.80" stroke="#2a2a2a" stroke-width="0.6" />
<line x1="347.47" y1="379.30" x2="347.47" y2="380.80" stroke="#2a2a2a" stroke-width="0.6" />
<line x1="348.00" y1="379.30" x2="348.00" y2="381.90" stroke="#2a2a2a" stroke-width="0.9" />
<rect x="302.1" y="332.4" width="46.90" height="46.90" fill="none" stroke="#2a2a2a" stroke-width="0.8"/>
<line x1="352.80" y1="337.00" x2="355.40" y2="337.00" stroke="#2a2a2a" stroke-width="0.9" />
<line x1="353.90" y1="333.54" x2="355.40" y2="333.54" stroke="#2a2a2a" stroke-width="0.6" />
<line x1="352.80" y1="348.60" x2="355.40" y2="348.60" stroke="#2a2a2a" stroke-width="0.9" />
<line x1="353.90" y1="345.14" x2="355.40" y2="345.14" stroke="#2a2a2a" stroke-width="0.6" />
<line x1="353.90" y1="343.11" x2="355.40" y2="343.11" stroke="#2a2a2a" stroke-width="0.6" />
<line x1="353.90" y1="341.68" x2="355.40" y2="341.68" stroke="#2a2a2a" stroke-width="0.6" />
<line x1="353.90" y1="340.56" x2="355.40" y2="340.56" stroke="#2a2a2a" stroke-width="0.6" />
<line x1="353.90" y1="339.65" x2="355.40" y2="339.65" stroke="#2a2a2a" stroke-width="0.6" />
<line x1="353.90" y1="338.88" x2="355.40" y2="338.88" stroke="#2a2a2a" stroke-width="0.6" />
<line x1="353.90" y1="338.21" x2="355.40" y2="338.21" stroke="#2a2a2a" stroke-width="0.6" />
<line x1="353.90" y1="337.63" x2="355.40" y2="337.63" stroke="#2a2a2a" stroke-width="0.6" />
<line x1="352.80" y1="361.80" x2="355.40" y2="361.80" stroke="#2a2a2a" stroke-width="0.9" />
<line x1="353.90" y1="358.34" x2="355.40" y2="358.34" stroke="#2a2a2a" stroke-width="0.6" />
<line x1="353.90" y1="356.31" x2="355.40" y2="356.31" stroke="#2a2a2a" stroke-width="0.6" />
<line x1="353.90" y1="354.88" x2="355.40" y2="354.88" stroke="#2a2a2a" stroke-width="0.6" />
<line x1="353.90" y1="353.76" x2="355.40" y2="353.76" stroke="#2a2a2a" stroke-width="0.6" />
<line x1="353.90" y1="352.85" x2="355.40" y2="352.85" stroke="#2a2a2a" stroke-width="0.6" />
<line x1="353.90" y1="352.08" x2="355.40" y2="352.08" stroke="#2a2a2a" stroke-width="0.6" />
<line x1="353.90" y1="351.41" x2="355.40" y2="351.41" stroke="#2a2a2a" stroke-width="0.6" />
<line x1="353.90" y1="350.83" x2="355.40" y2="350.83" stroke="#2a2a2a" stroke-width="0.6" />
<line x1="352.80" y1="369.20" x2="355.40" y2="369.20" stroke="#2a2a2a" stroke-width="0.9" />
<line x1="353.90" y1="365.74" x2="355.40" y2="365.74" stroke="#2a2a2a" stroke-width="0.6" />
<line x1="353.90" y1="363.71" x2="355.40" y2="363.71" stroke="#2a2a2a" stroke-width="0.6" />
<line x1="353.90" y1="362.28" x2="355.40" y2="362.28" stroke="#2a2a2a" stroke-width="0.6" />
<line x1="353.90" y1="361.16" x2="355.40" y2="361.16" stroke="#2a2a2a" stroke-width="0.6" />
<line x1="353.90" y1="360.25" x2="355.40" y2="360.25" stroke="#2a2a2a" stroke-width="0.6" />
<line x1="353.90" y1="359.48" x2="355.40" y2="359.48" stroke="#2a2a2a" stroke-width="0.6" />
<line x1="353.90" y1="358.81" x2="355.40" y2="358.81" stroke="#2a2a2a" stroke-width="0.6" />
<line x1="353.90" y1="358.23" x2="355.40" y2="358.23" stroke="#2a2a2a" stroke-width="0.6" />
<line x1="352.80" y1="376.50" x2="355.40" y2="376.50" stroke="#2a2a2a" stroke-width="0.9" />
<line x1="353.90" y1="373.04" x2="355.40" y2="373.04" stroke="#2a2a2a" stroke-width="0.6" />
<line x1="353.90" y1="371.01" x2="355.40" y2="371.01" stroke="#2a2a2a" stroke-width="0.6" />
<line x1="353.90" y1="369.58" x2="355.40" y2="369.58" stroke="#2a2a2a" stroke-width="0.6" />
<line x1="353.90" y1="368.46" x2="355.40" y2="368.46" stroke="#2a2a2a" stroke-width="0.6" />
<line x1="353.90" y1="367.55" x2="355.40" y2="367.55" stroke="#2a2a2a" stroke-width="0.6" />
<line x1="353.90" y1="366.78" x2="355.40" y2="366.78" stroke="#2a2a2a" stroke-width="0.6" />
<line x1="353.90" y1="366.11" x2="355.40" y2="366.11" stroke="#2a2a2a" stroke-width="0.6" />
<line x1="353.90" y1="365.53" x2="355.40" y2="365.53" stroke="#2a2a2a" stroke-width="0.6" />
<line x1="355.30" y1="379.30" x2="355.30" y2="381.90" stroke="#2a2a2a" stroke-width="0.9" />
<line x1="358.76" y1="379.30" x2="358.76" y2="380.80" stroke="#2a2a2a" stroke-width="0.6" />
<line x1="360.79" y1="379.30" x2="360.79" y2="380.80" stroke="#2a2a2a" stroke-width="0.6" />
<line x1="362.22" y1="379.30" x2="362.22" y2="380.80" stroke="#2a2a2a" stroke-width="0.6" />
<line x1="363.34" y1="379.30" x2="363.34" y2="380.80" stroke="#2a2a2a" stroke-width="0.6" />
<line x1="364.25" y1="379.30" x2="364.25" y2="380.80" stroke="#2a2a2a" stroke-width="0.6" />
<line x1="365.02" y1="379.30" x2="365.02" y2="380.80" stroke="#2a2a2a" stroke-width="0.6" />
<line x1="365.69" y1="379.30" x2="365.69" y2="380.80" stroke="#2a2a2a" stroke-width="0.6" />
<line x1="366.27" y1="379.30" x2="366.27" y2="380.80" stroke="#2a2a2a" stroke-width="0.6" />
<line x1="366.80" y1="379.30" x2="366.80" y2="381.90" stroke="#2a2a2a" stroke-width="0.9" />
<line x1="370.26" y1="379.30" x2="370.26" y2="380.80" stroke="#2a2a2a" stroke-width="0.6" />
<line x1="372.29" y1="379.30" x2="372.29" y2="380.80" stroke="#2a2a2a" stroke-width="0.6" />
<line x1="373.72" y1="379.30" x2="373.72" y2="380.80" stroke="#2a2a2a" stroke-width="0.6" />
<line x1="374.84" y1="379.30" x2="374.84" y2="380.80" stroke="#2a2a2a" stroke-width="0.6" />
<line x1="375.75" y1="379.30" x2="375.75" y2="380.80" stroke="#2a2a2a" stroke-width="0.6" />
<line x1="376.52" y1="379.30" x2="376.52" y2="380.80" stroke="#2a2a2a" stroke-width="0.6" />
<line x1="377.19" y1="379.30" x2="377.19" y2="380.80" stroke="#2a2a2a" stroke-width="0.6" />
<line x1="377.77" y1="379.30" x2="377.77" y2="380.80" stroke="#2a2a2a" stroke-width="0.6" />
<line x1="378.30" y1="379.30" x2="378.30" y2="381.90" stroke="#2a2a2a" stroke-width="0.9" />
<line x1="381.76" y1="379.30" x2="381.76" y2="380.80" stroke="#2a2a2a" stroke-width="0.6" />
<line x1="383.79" y1="379.30" x2="383.79" y2="380.80" stroke="#2a2a2a" stroke-width="0.6" />
<line x1="385.22" y1="379.30" x2="385.22" y2="380.80" stroke="#2a2a2a" stroke-width="0.6" />
<line x1="386.34" y1="379.30" x2="386.34" y2="380.80" stroke="#2a2a2a" stroke-width="0.6" />
<line x1="387.25" y1="379.30" x2="387.25" y2="380.80" stroke="#2a2a2a" stroke-width="0.6" />
<line x1="388.02" y1="379.30" x2="388.02" y2="380.80" stroke="#2a2a2a" stroke-width="0.6" />
<line x1="388.69" y1="379.30" x2="388.69" y2="380.80" stroke="#2a2a2a" stroke-width="0.6" />
<line x1="389.27" y1="379.30" x2="389.27" y2="380.80" stroke="#2a2a2a" stroke-width="0.6" />
<line x1="389.80" y1="379.30" x2="389.80" y2="381.90" stroke="#2a2a2a" stroke-width="0.9" />
<line x1="393.26" y1="379.30" x2="393.26" y2="380.80" stroke="#2a2a2a" stroke-width="0.6" />
<line x1="395.29" y1="379.30" x2="395.29" y2="380.80" stroke="#2a2a2a" stroke-width="0.6" />
<line x1="396.72" y1="379.30" x2="396.72" y2="380.80" stroke="#2a2a2a" stroke-width="0.6" />
<line x1="397.84" y1="379.30" x2="397.84" y2="380.80" stroke="#2a2a2a" stroke-width="0.6" />
<line x1="398.75" y1="379.30" x2="398.75" y2="380.80" stroke="#2a2a2a" stroke-width="0.6" />
<line x1="399.52" y1="379.30" x2="399.52" y2="380.80" stroke="#2a2a2a" stroke-width="0.6" />
<line x1="400.19" y1="379.30" x2="400.19" y2="380.80" stroke="#2a2a2a" stroke-width="0.6" />
<line x1="400.77" y1="379.30" x2="400.77" y2="380.80" stroke="#2a2a2a" stroke-width="0.6" />
<line x1="401.30" y1="379.30" x2="401.30" y2="381.90" stroke="#2a2a2a" stroke-width="0.9" />
<rect x="355.4" y="332.4" width="46.90" height="46.90" fill="none" stroke="#2a2a2a" stroke-width="0.8"/>
<defs><radialGradient id="gd" cx="40%" cy="72%" r="62%"><stop offset="0" stop-color="#0d0d0d"/><stop offset="0.35" stop-color="#3a3a3a"/><stop offset="0.75" stop-color="#9a9a9a"/><stop offset="1" stop-color="#d0d0d0" stop-opacity="0.5"/></radialGradient><radialGradient id="gl" cx="50%" cy="55%" r="55%"><stop offset="0" stop-color="#a0a0a0"/><stop offset="0.6" stop-color="#c4c4c4"/><stop offset="1" stop-color="#dedede" stop-opacity="0.6"/></radialGradient></defs>
<g fill="#888" fill-opacity="0.5"><circle cx="334.4" cy="365.3" r="0.3"/><circle cx="337.4" cy="360.7" r="0.3"/><circle cx="320.1" cy="357.5" r="0.3"/><circle cx="332.5" cy="363.5" r="0.3"/><circle cx="315.2" cy="356.1" r="0.3"/><circle cx="330.5" cy="366.5" r="0.3"/><circle cx="330.2" cy="361.3" r="0.3"/><circle cx="322.6" cy="355.7" r="0.3"/><circle cx="321.9" cy="370.2" r="0.3"/><circle cx="314.1" cy="372.2" r="0.3"/><circle cx="327.8" cy="373.1" r="0.3"/><circle cx="335.7" cy="362.8" r="0.3"/><circle cx="336.5" cy="369.6" r="0.3"/><circle cx="317.3" cy="360.9" r="0.3"/><circle cx="308.4" cy="361.6" r="0.3"/><circle cx="325.3" cy="354.6" r="0.3"/><circle cx="308.8" cy="367.6" r="0.3"/><circle cx="311.2" cy="367.5" r="0.3"/><circle cx="313.8" cy="375.2" r="0.3"/><circle cx="313.5" cy="365.5" r="0.3"/><circle cx="320.3" cy="370.7" r="0.3"/><circle cx="326.5" cy="370.9" r="0.3"/><circle cx="324.2" cy="356.5" r="0.3"/><circle cx="312.8" cy="373.4" r="0.3"/><circle cx="308.9" cy="363.2" r="0.3"/><circle cx="313.6" cy="371.9" r="0.3"/><circle cx="326.9" cy="367.4" r="0.3"/><circle cx="331.9" cy="372.9" r="0.3"/><circle cx="317.8" cy="366.5" r="0.3"/><circle cx="321.2" cy="354.7" r="0.3"/><circle cx="334.4" cy="366.3" r="0.3"/><circle cx="333.7" cy="356.9" r="0.3"/><circle cx="324.3" cy="363.1" r="0.3"/><circle cx="317.8" cy="363.6" r="0.3"/><circle cx="308.4" cy="365.3" r="0.3"/><circle cx="331.0" cy="362.1" r="0.3"/><circle cx="328.0" cy="366.5" r="0.3"/><circle cx="313.3" cy="360.4" r="0.3"/><circle cx="320.6" cy="354.0" r="0.3"/><circle cx="313.4" cy="356.0" r="0.3"/><circle cx="337.7" cy="369.4" r="0.3"/><circle cx="326.8" cy="374.4" r="0.3"/><circle cx="324.2" cy="362.0" r="0.3"/><circle cx="338.3" cy="363.6" r="0.3"/><circle cx="332.3" cy="361.8" r="0.3"/><circle cx="315.9" cy="374.4" r="0.3"/><circle cx="312.3" cy="354.3" r="0.3"/><circle cx="330.6" cy="359.1" r="0.3"/><circle cx="323.7" cy="367.3" r="0.3"/><circle cx="315.4" cy="362.4" r="0.3"/><circle cx="317.7" cy="369.8" r="0.3"/><circle cx="331.4" cy="358.9" r="0.3"/><circle cx="309.5" cy="359.2" r="0.3"/><circle cx="320.0" cy="353.9" r="0.3"/><circle cx="311.2" cy="370.3" r="0.3"/><circle cx="329.8" cy="375.4" r="0.3"/><circle cx="318.7" cy="355.9" r="0.3"/><circle cx="316.6" cy="363.1" r="0.3"/><circle cx="323.9" cy="365.0" r="0.3"/><circle cx="318.2" cy="372.5" r="0.3"/><circle cx="315.7" cy="363.1" r="0.3"/><circle cx="336.2" cy="371.4" r="0.3"/><circle cx="316.1" cy="357.8" r="0.3"/><circle cx="310.5" cy="364.7" r="0.3"/><circle cx="324.2" cy="356.0" r="0.3"/><circle cx="307.7" cy="356.9" r="0.3"/><circle cx="332.2" cy="363.2" r="0.3"/><circle cx="339.3" cy="370.9" r="0.3"/><circle cx="320.7" cy="360.1" r="0.3"/><circle cx="307.7" cy="365.1" r="0.3"/></g>
<g fill="#999" fill-opacity="0.45"><circle cx="363.0" cy="362.2" r="0.3"/><circle cx="367.9" cy="372.0" r="0.3"/><circle cx="373.4" cy="361.2" r="0.3"/><circle cx="361.4" cy="364.6" r="0.3"/><circle cx="380.1" cy="369.5" r="0.3"/><circle cx="389.2" cy="372.2" r="0.3"/><circle cx="367.9" cy="358.7" r="0.3"/><circle cx="384.3" cy="371.8" r="0.3"/><circle cx="376.3" cy="372.6" r="0.3"/><circle cx="377.7" cy="361.6" r="0.3"/><circle cx="365.4" cy="356.3" r="0.3"/><circle cx="380.6" cy="373.9" r="0.3"/><circle cx="389.0" cy="365.3" r="0.3"/><circle cx="386.0" cy="368.1" r="0.3"/><circle cx="373.3" cy="366.4" r="0.3"/><circle cx="365.5" cy="359.7" r="0.3"/><circle cx="377.5" cy="364.2" r="0.3"/><circle cx="371.3" cy="365.1" r="0.3"/><circle cx="385.7" cy="365.1" r="0.3"/><circle cx="390.7" cy="359.1" r="0.3"/><circle cx="370.1" cy="366.4" r="0.3"/><circle cx="373.2" cy="373.0" r="0.3"/><circle cx="379.6" cy="356.6" r="0.3"/><circle cx="378.4" cy="367.0" r="0.3"/><circle cx="375.6" cy="361.6" r="0.3"/><circle cx="363.3" cy="369.4" r="0.3"/><circle cx="371.9" cy="366.3" r="0.3"/><circle cx="380.6" cy="359.9" r="0.3"/><circle cx="389.5" cy="359.6" r="0.3"/><circle cx="372.3" cy="372.6" r="0.3"/><circle cx="370.1" cy="361.4" r="0.3"/><circle cx="370.2" cy="363.9" r="0.3"/><circle cx="369.0" cy="358.6" r="0.3"/><circle cx="368.0" cy="375.6" r="0.3"/><circle cx="362.5" cy="360.6" r="0.3"/><circle cx="366.4" cy="357.6" r="0.3"/><circle cx="376.8" cy="370.9" r="0.3"/><circle cx="386.8" cy="368.6" r="0.3"/><circle cx="386.2" cy="356.1" r="0.3"/><circle cx="369.0" cy="375.2" r="0.3"/><circle cx="362.2" cy="361.4" r="0.3"/><circle cx="375.5" cy="361.4" r="0.3"/><circle cx="377.5" cy="356.9" r="0.3"/><circle cx="367.6" cy="375.2" r="0.3"/><circle cx="364.6" cy="374.1" r="0.3"/></g>
<ellipse cx="312.6" cy="364.3" rx="3.3" ry="7.9" fill="url(#gd)" transform="rotate(8 312.6 364.3)"/>
<ellipse cx="312.6" cy="364.3" rx="3.6" ry="8.1" fill="none" stroke="#8a8a8a" stroke-width="0.5" transform="rotate(8 312.6 364.3)"/>
<ellipse cx="329.0" cy="367.2" rx="7.0" ry="4.6" fill="url(#gl)" transform="rotate(-18 329 367.2)"/>
<ellipse cx="329.0" cy="367.2" rx="7.0" ry="4.6" fill="none" stroke="#999" stroke-width="0.5" transform="rotate(-18 329 367.2)"/>
<ellipse cx="329.4" cy="367.6" rx="4.6" ry="3.0" fill="none" stroke="#8c8c8c" stroke-width="0.5" transform="rotate(-18 329 367.2)"/>
<ellipse cx="329.6" cy="367.8" rx="2.2" ry="1.4" fill="#e8e8e8" stroke="#888" stroke-width="0.5" transform="rotate(-18 329 367.2)"/>
<path d="M325,352.5 L329.5,346.5 L333.8,344.2 L334.2,350.5 L329,352.5 Z" fill="none" stroke="#aaa" stroke-width="0.5" />
<ellipse cx="366.0" cy="364.2" rx="2.7" ry="7.6" fill="url(#gd)" transform="rotate(5 366 364.2)"/>
<ellipse cx="366.0" cy="364.2" rx="3.0" ry="7.8" fill="none" stroke="#999" stroke-width="0.5" transform="rotate(5 366 364.2)"/>
<ellipse cx="384.4" cy="362.5" rx="1.6" ry="5" fill="none" stroke="#bbb" stroke-width="0.5"/>
<path d="M318.7,332.4 V350.3 L323.5,354.5 H349.0" fill="none" stroke="#222" stroke-width="1.0" />
<path d="M372.4,332.4 V350.3 L376.5,354.2 H402.3" fill="none" stroke="#222" stroke-width="1.0" />
<text x="314.30" y="320.70" font-size="6.8" fill="#c41630" textLength="23.40" lengthAdjust="spacingAndGlyphs" >shCntrl</text>
<text x="316.00" y="329.30" font-size="6.8" fill="#c41630" textLength="19.70" lengthAdjust="spacingAndGlyphs" >2.14%</text>
<text x="361.60" y="319.80" font-size="6.8" fill="#37b048" textLength="33.70" lengthAdjust="spacingAndGlyphs" >2shPLAG1</text>
<text x="368.50" y="327.90" font-size="6.8" fill="#37b048" textLength="19.90" lengthAdjust="spacingAndGlyphs" >0.04%</text>
<text x="292.60" y="359.00" font-size="6.9" fill="#231f20" stroke="#231f20" stroke-width="0.12" textLength="11.30" lengthAdjust="spacingAndGlyphs" transform="rotate(-90 292.60 359.00)" >GFP</text>
<text x="318.90" y="399.80" font-size="8.7" fill="#231f20" stroke="#231f20" stroke-width="0.16" textLength="65.00" lengthAdjust="spacingAndGlyphs" >Human CD45-PacBlue</text>
<line x1="452.80" y1="309.20" x2="452.80" y2="387.45" stroke="#2a2a2a" stroke-width="0.9" />
<line x1="450.10" y1="386.90" x2="452.80" y2="386.90" stroke="#2a2a2a" stroke-width="0.8" />
<text x="446.60" y="389.06" font-size="6.0" fill="#231f20" stroke="#231f20" stroke-width="0.12" text-anchor="end" >0</text>
<line x1="450.10" y1="371.90" x2="452.80" y2="371.90" stroke="#2a2a2a" stroke-width="0.8" />
<text x="446.60" y="374.06" font-size="6.0" fill="#231f20" stroke="#231f20" stroke-width="0.12" text-anchor="end" >0.5</text>
<line x1="450.10" y1="356.90" x2="452.80" y2="356.90" stroke="#2a2a2a" stroke-width="0.8" />
<text x="446.60" y="359.06" font-size="6.0" fill="#231f20" stroke="#231f20" stroke-width="0.12" text-anchor="end" >1</text>
<line x1="450.10" y1="341.90" x2="452.80" y2="341.90" stroke="#2a2a2a" stroke-width="0.8" />
<text x="446.60" y="344.06" font-size="6.0" fill="#231f20" stroke="#231f20" stroke-width="0.12" text-anchor="end" >1.5</text>
<line x1="450.10" y1="326.90" x2="452.80" y2="326.90" stroke="#2a2a2a" stroke-width="0.8" />
<text x="446.60" y="329.06" font-size="6.0" fill="#231f20" stroke="#231f20" stroke-width="0.12" text-anchor="end" >2</text>
<line x1="450.10" y1="311.90" x2="452.80" y2="311.90" stroke="#2a2a2a" stroke-width="0.8" />
<text x="446.60" y="314.06" font-size="6.0" fill="#231f20" stroke="#231f20" stroke-width="0.12" text-anchor="end" >2.5</text>
<line x1="452.80" y1="387.00" x2="511.50" y2="387.00" stroke="#2a2a2a" stroke-width="0.9" />
<rect x="458.60" y="356.10" width="21.20" height="30.90" fill="#df8897" />
<rect x="487.70" y="385.80" width="20.80" height="1.20" fill="#9bd7a0" />
<line x1="468.90" y1="347.90" x2="468.90" y2="364.50" stroke="#2a2a2a" stroke-width="0.8" />
<line x1="466.90" y1="347.90" x2="470.90" y2="347.90" stroke="#2a2a2a" stroke-width="0.8" />
<line x1="466.90" y1="364.50" x2="470.90" y2="364.50" stroke="#2a2a2a" stroke-width="0.8" />
<circle cx="468.90" cy="324.50" r="1.7" fill="#c41630"/>
<circle cx="468.90" cy="334.20" r="1.7" fill="#c41630"/>
<circle cx="468.90" cy="357.90" r="1.7" fill="#c41630"/>
<circle cx="468.90" cy="366.60" r="1.7" fill="#c41630"/>
<circle cx="468.90" cy="373.70" r="1.7" fill="#c41630"/>
<circle cx="468.90" cy="382.00" r="1.7" fill="#c41630"/>
<circle cx="498.20" cy="383.60" r="1.6" fill="#3cb44e"/>
<circle cx="498.20" cy="385.60" r="1.6" fill="#3cb44e"/>
<line x1="498.20" y1="384.50" x2="498.20" y2="386.50" stroke="#111" stroke-width="1.2" />
<text x="477.80" y="312.30" font-size="7.8" fill="#231f20" stroke="#231f20" stroke-width="0.1" textLength="21.70" lengthAdjust="spacingAndGlyphs" >17.94×</text>
<text x="475.00" y="321.20" font-size="7.8" fill="#231f20" stroke="#231f20" stroke-width="0.1" textLength="27.40" lengthAdjust="spacingAndGlyphs" >p=0.064</text>
<line x1="468.90" y1="387.00" x2="468.90" y2="389.40" stroke="#2a2a2a" stroke-width="0.8" />
<text x="458.80" y="398.10" font-size="6.4" fill="#231f20" stroke="#231f20" stroke-width="0.1" textLength="19.40" lengthAdjust="spacingAndGlyphs" >shCntrl</text>
<line x1="498.20" y1="387.00" x2="498.20" y2="389.40" stroke="#2a2a2a" stroke-width="0.8" />
<text x="483.40" y="398.10" font-size="6.4" fill="#231f20" stroke="#231f20" stroke-width="0.1" textLength="28.60" lengthAdjust="spacingAndGlyphs" >2shPLAG1</text>
<text x="422.00" y="390.40" font-size="8.4" fill="#231f20" stroke="#231f20" stroke-width="0.12" textLength="85.00" lengthAdjust="spacingAndGlyphs" transform="rotate(-90 422.00 390.40)" >Output/input GFP<tspan dy="-2.7" font-size="80%" font-weight="normal">+</tspan><tspan dy="2.7">​</tspan> of human</text>
<text x="430.40" y="385.80" font-size="8.4" fill="#231f20" stroke="#231f20" stroke-width="0.12" textLength="75.70" lengthAdjust="spacingAndGlyphs" transform="rotate(-90 430.40 385.80)" >CD45<tspan dy="-2.7" font-size="80%" font-weight="normal">+</tspan><tspan dy="2.7">​</tspan> in injected femur</text>
<rect x="0.5" y="0.5" width="519" height="406" fill="none" stroke="#000" stroke-width="1"/>
</svg>
</body></html>
